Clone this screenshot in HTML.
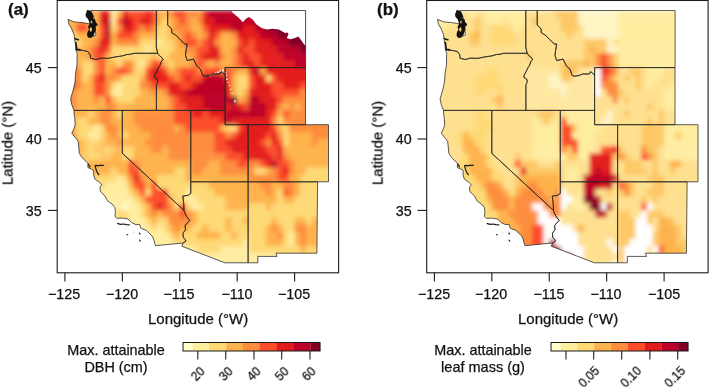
<!DOCTYPE html>
<html><head><meta charset="utf-8"><style>
html,body{margin:0;padding:0;background:#fff}
body{width:709px;height:390px;position:relative;overflow:hidden;font-family:"Liberation Sans", sans-serif;color:#111}
div{-webkit-text-stroke:0.25px #111;will-change:transform}
</style></head><body>
<svg width="709" height="390" style="position:absolute;left:0;top:0"><defs><filter id="bl" x="-5%" y="-5%" width="110%" height="110%"><feGaussianBlur stdDeviation="2.0"/></filter></defs><clipPath id="land0"><path d="M90.7,10.5L156.3,10.5L156.3,47.3L157.7,53.3L134.0,53.3L130.4,54.3L126.9,54.5L122.3,55.9L115.4,56.9L108.5,58.3L100.5,58.2L95.9,59.5L90.6,58.3L90.2,54.7L87.9,51.6L83.3,50.5L77.5,49.8L75.8,49.5L75.5,44.8L74.7,39.8L74.1,34.8L71.8,29.0L68.9,24.0L68.0,19.3L74.1,21.9L82.1,22.6L86.7,23.3L90.2,24.0L92.5,30.5L93.6,36.2L95.9,34.8L95.3,29.0L95.9,24.8L94.2,19.0L92.5,14.8L90.7,10.5Z"/><path d="M74.0,110.4L71.8,104.7L70.6,99.0L71.8,94.7L73.5,89.0L75.0,81.9L75.6,73.3L77.0,64.7L77.0,59.0L77.2,53.3L75.8,49.5L77.5,49.8L83.3,50.5L87.9,51.6L90.2,54.7L90.6,58.3L95.9,59.5L100.5,58.2L108.5,58.3L115.4,56.9L122.3,55.9L126.9,54.5L130.4,54.3L134.0,53.3L157.7,53.3L157.7,53.3L159.3,55.5L161.9,57.6L163.0,59.5L161.6,61.2L159.9,65.5L158.5,67.6L156.8,71.2L154.5,75.5L154.5,77.6L157.1,79.0L157.9,81.9L156.4,84.7L156.4,110.4Z"/><path d="M155.4,245.7L153.6,239.0L152.2,236.1L146.4,230.4L141.8,228.7L140.7,228.2L139.6,224.3L136.1,224.7L131.5,222.5L128.1,219.0L122.3,218.1L116.9,218.3L115.0,216.5L115.4,211.8L114.9,207.5L112.0,204.0L107.4,200.8L105.1,196.1L100.5,191.8L99.9,187.6L101.7,184.7L99.4,182.3L94.8,179.0L93.6,174.7L93.6,170.4L91.3,169.0L87.9,167.6L87.9,163.3L82.1,157.6L79.3,153.3L78.7,146.1L78.1,141.1L75.2,137.6L71.8,133.3L74.1,128.3L75.2,124.7L74.7,117.6L74.1,114.0L74.0,110.4L122.3,110.4L122.3,153.3L184.0,210.4L184.7,212.5L186.3,216.1L189.7,220.4L186.3,224.0L185.1,225.7L185.5,229.7L183.0,233.2L183.2,237.5L185.5,239.7L185.8,241.2L183.0,243.0L155.4,245.7Z"/><path d="M122.3,110.4L190.8,110.4L190.8,193.4L187.8,195.4L182.7,196.1L183.2,199.0L183.7,203.3L184.0,210.4L122.3,153.3Z"/><path d="M156.3,10.5L167.7,10.5L167.7,25.0L171.7,29.0L171.7,32.6L176.3,35.5L180.3,39.8L184.9,44.0L187.2,44.0L186.1,50.5L185.5,55.5L187.2,60.5L191.2,59.7L193.5,59.0L197.0,66.2L200.4,69.0L202.7,75.5L205.0,76.2L209.6,75.5L213.1,74.0L219.9,74.0L221.1,71.6L225.1,75.0L225.1,110.4L156.4,110.4L156.4,84.7L157.9,81.9L157.1,79.0L154.5,77.6L154.5,75.5L156.8,71.2L158.5,67.6L159.9,65.5L161.6,61.2L163.0,59.5L161.9,57.6L159.3,55.5L157.7,53.3L156.3,47.3Z"/><path d="M167.7,10.5L305.6,10.5L305.6,67.6L225.1,67.6L225.1,75.0L221.1,71.6L219.9,74.0L213.1,74.0L209.6,75.5L205.0,76.2L202.7,75.5L200.4,69.0L197.0,66.2L193.5,59.0L191.2,59.7L187.2,60.5L185.5,55.5L186.1,50.5L187.2,44.0L184.9,44.0L180.3,39.8L176.3,35.5L171.7,32.6L171.7,29.0L167.7,25.0Z"/><path d="M225.1,67.6L305.5,67.6L305.5,124.7L225.1,124.7Z"/><path d="M190.8,110.4L225.1,110.4L225.1,124.7L248.1,124.7L248.1,181.8L190.7,181.8Z"/><path d="M248.1,124.7L328.5,124.7L328.5,181.8L248.1,181.8Z"/><path d="M190.7,181.8L248.1,181.8L248.1,262.8L224.9,262.8L181.8,246.2L183.0,243.0L185.8,241.2L185.5,239.7L183.2,237.5L183.0,233.2L185.5,229.7L185.1,225.7L186.3,224.0L189.7,220.4L186.3,216.1L184.7,212.5L184.0,210.4L183.7,203.3L183.2,199.0L182.7,196.1L187.8,195.4L190.8,193.4Z"/><path d="M248.1,181.8L317.6,181.8L316.9,253.2L276.0,253.2L277.0,256.4L257.8,256.4L257.8,262.8L248.1,262.8Z"/></clipPath><g clip-path="url(#land0)"><g filter="url(#bl)"><rect x="64.9" y="10.5" width="11.8" height="7.4" fill="#FEB24C"/><rect x="76.4" y="10.5" width="17.5" height="7.4" fill="#FD8D3C"/><rect x="93.6" y="10.5" width="6.0" height="7.4" fill="#FEB24C"/><rect x="99.4" y="10.5" width="11.8" height="7.4" fill="#E31A1C"/><rect x="110.8" y="10.5" width="6.0" height="7.4" fill="#FFEDA0"/><rect x="116.6" y="10.5" width="6.0" height="7.4" fill="#FEB24C"/><rect x="122.3" y="10.5" width="6.0" height="7.4" fill="#E31A1C"/><rect x="128.1" y="10.5" width="17.5" height="7.4" fill="#FC4E2A"/><rect x="145.3" y="10.5" width="6.0" height="7.4" fill="#E31A1C"/><rect x="151.0" y="10.5" width="6.0" height="7.4" fill="#FC4E2A"/><rect x="156.8" y="10.5" width="11.8" height="7.4" fill="#FEB24C"/><rect x="168.3" y="10.5" width="6.0" height="7.4" fill="#FD8D3C"/><rect x="174.0" y="10.5" width="11.8" height="7.4" fill="#FC4E2A"/><rect x="185.5" y="10.5" width="17.5" height="7.4" fill="#FD8D3C"/><rect x="202.7" y="10.5" width="6.0" height="7.4" fill="#E31A1C"/><rect x="208.5" y="10.5" width="46.2" height="7.4" fill="#BD0026"/><rect x="254.4" y="10.5" width="69.2" height="7.4" fill="#800026"/><rect x="64.9" y="17.6" width="11.8" height="7.4" fill="#FEB24C"/><rect x="76.4" y="17.6" width="11.8" height="7.4" fill="#FD8D3C"/><rect x="87.9" y="17.6" width="11.8" height="7.4" fill="#FEB24C"/><rect x="99.4" y="17.6" width="6.0" height="7.4" fill="#E31A1C"/><rect x="105.1" y="17.6" width="6.0" height="7.4" fill="#BD0026"/><rect x="110.8" y="17.6" width="6.0" height="7.4" fill="#FFEDA0"/><rect x="116.6" y="17.6" width="6.0" height="7.4" fill="#FC4E2A"/><rect x="122.3" y="17.6" width="6.0" height="7.4" fill="#BD0026"/><rect x="128.1" y="17.6" width="6.0" height="7.4" fill="#E31A1C"/><rect x="133.8" y="17.6" width="6.0" height="7.4" fill="#FC4E2A"/><rect x="139.6" y="17.6" width="11.8" height="7.4" fill="#E31A1C"/><rect x="151.0" y="17.6" width="6.0" height="7.4" fill="#FC4E2A"/><rect x="156.8" y="17.6" width="6.0" height="7.4" fill="#FEB24C"/><rect x="162.5" y="17.6" width="6.0" height="7.4" fill="#FED976"/><rect x="168.3" y="17.6" width="6.0" height="7.4" fill="#FEB24C"/><rect x="174.0" y="17.6" width="6.0" height="7.4" fill="#FD8D3C"/><rect x="179.8" y="17.6" width="6.0" height="7.4" fill="#FC4E2A"/><rect x="185.5" y="17.6" width="6.0" height="7.4" fill="#FD8D3C"/><rect x="191.2" y="17.6" width="6.0" height="7.4" fill="#FEB24C"/><rect x="197.0" y="17.6" width="6.0" height="7.4" fill="#FD8D3C"/><rect x="202.7" y="17.6" width="11.8" height="7.4" fill="#E31A1C"/><rect x="214.2" y="17.6" width="40.5" height="7.4" fill="#BD0026"/><rect x="254.4" y="17.6" width="69.2" height="7.4" fill="#800026"/><rect x="64.9" y="24.8" width="11.8" height="7.4" fill="#FEB24C"/><rect x="76.4" y="24.8" width="11.8" height="7.4" fill="#FC4E2A"/><rect x="87.9" y="24.8" width="11.8" height="7.4" fill="#FEB24C"/><rect x="99.4" y="24.8" width="6.0" height="7.4" fill="#FC4E2A"/><rect x="105.1" y="24.8" width="6.0" height="7.4" fill="#BD0026"/><rect x="110.8" y="24.8" width="6.0" height="7.4" fill="#FED976"/><rect x="116.6" y="24.8" width="6.0" height="7.4" fill="#FD8D3C"/><rect x="122.3" y="24.8" width="11.8" height="7.4" fill="#E31A1C"/><rect x="133.8" y="24.8" width="6.0" height="7.4" fill="#FC4E2A"/><rect x="139.6" y="24.8" width="6.0" height="7.4" fill="#FD8D3C"/><rect x="145.3" y="24.8" width="6.0" height="7.4" fill="#FC4E2A"/><rect x="151.0" y="24.8" width="6.0" height="7.4" fill="#FD8D3C"/><rect x="156.8" y="24.8" width="11.8" height="7.4" fill="#FED976"/><rect x="168.3" y="24.8" width="6.0" height="7.4" fill="#FEB24C"/><rect x="174.0" y="24.8" width="17.5" height="7.4" fill="#FD8D3C"/><rect x="191.2" y="24.8" width="11.8" height="7.4" fill="#FEB24C"/><rect x="202.7" y="24.8" width="6.0" height="7.4" fill="#FC4E2A"/><rect x="208.5" y="24.8" width="23.3" height="7.4" fill="#E31A1C"/><rect x="231.4" y="24.8" width="11.8" height="7.4" fill="#BD0026"/><rect x="242.9" y="24.8" width="11.8" height="7.4" fill="#E31A1C"/><rect x="254.4" y="24.8" width="11.8" height="7.4" fill="#BD0026"/><rect x="265.9" y="24.8" width="57.7" height="7.4" fill="#800026"/><rect x="64.9" y="31.9" width="6.0" height="7.4" fill="#FEB24C"/><rect x="70.6" y="31.9" width="6.0" height="7.4" fill="#FED976"/><rect x="76.4" y="31.9" width="23.3" height="7.4" fill="#FEB24C"/><rect x="99.4" y="31.9" width="6.0" height="7.4" fill="#FC4E2A"/><rect x="105.1" y="31.9" width="6.0" height="7.4" fill="#BD0026"/><rect x="110.8" y="31.9" width="6.0" height="7.4" fill="#FEB24C"/><rect x="116.6" y="31.9" width="17.5" height="7.4" fill="#FC4E2A"/><rect x="133.8" y="31.9" width="6.0" height="7.4" fill="#FD8D3C"/><rect x="139.6" y="31.9" width="17.5" height="7.4" fill="#FEB24C"/><rect x="156.8" y="31.9" width="11.8" height="7.4" fill="#FED976"/><rect x="168.3" y="31.9" width="11.8" height="7.4" fill="#FEB24C"/><rect x="179.8" y="31.9" width="6.0" height="7.4" fill="#FD8D3C"/><rect x="185.5" y="31.9" width="6.0" height="7.4" fill="#FC4E2A"/><rect x="191.2" y="31.9" width="6.0" height="7.4" fill="#FD8D3C"/><rect x="197.0" y="31.9" width="6.0" height="7.4" fill="#FEB24C"/><rect x="202.7" y="31.9" width="6.0" height="7.4" fill="#FD8D3C"/><rect x="208.5" y="31.9" width="6.0" height="7.4" fill="#E31A1C"/><rect x="214.2" y="31.9" width="6.0" height="7.4" fill="#FC4E2A"/><rect x="219.9" y="31.9" width="11.8" height="7.4" fill="#FEB24C"/><rect x="231.4" y="31.9" width="6.0" height="7.4" fill="#FD8D3C"/><rect x="237.2" y="31.9" width="23.3" height="7.4" fill="#E31A1C"/><rect x="260.1" y="31.9" width="17.5" height="7.4" fill="#BD0026"/><rect x="277.4" y="31.9" width="46.2" height="7.4" fill="#800026"/><rect x="64.9" y="39.0" width="17.5" height="7.4" fill="#FED976"/><rect x="82.1" y="39.0" width="11.8" height="7.4" fill="#FEB24C"/><rect x="93.6" y="39.0" width="6.0" height="7.4" fill="#FD8D3C"/><rect x="99.4" y="39.0" width="11.8" height="7.4" fill="#E31A1C"/><rect x="110.8" y="39.0" width="6.0" height="7.4" fill="#FEB24C"/><rect x="116.6" y="39.0" width="23.3" height="7.4" fill="#FD8D3C"/><rect x="139.6" y="39.0" width="17.5" height="7.4" fill="#FED976"/><rect x="156.8" y="39.0" width="6.0" height="7.4" fill="#FFEDA0"/><rect x="162.5" y="39.0" width="11.8" height="7.4" fill="#FED976"/><rect x="174.0" y="39.0" width="6.0" height="7.4" fill="#FEB24C"/><rect x="179.8" y="39.0" width="6.0" height="7.4" fill="#FD8D3C"/><rect x="185.5" y="39.0" width="11.8" height="7.4" fill="#FC4E2A"/><rect x="197.0" y="39.0" width="6.0" height="7.4" fill="#FD8D3C"/><rect x="202.7" y="39.0" width="6.0" height="7.4" fill="#FC4E2A"/><rect x="208.5" y="39.0" width="6.0" height="7.4" fill="#E31A1C"/><rect x="214.2" y="39.0" width="6.0" height="7.4" fill="#FD8D3C"/><rect x="219.9" y="39.0" width="17.5" height="7.4" fill="#FEB24C"/><rect x="237.2" y="39.0" width="6.0" height="7.4" fill="#FC4E2A"/><rect x="242.9" y="39.0" width="6.0" height="7.4" fill="#E31A1C"/><rect x="248.7" y="39.0" width="6.0" height="7.4" fill="#FC4E2A"/><rect x="254.4" y="39.0" width="17.5" height="7.4" fill="#E31A1C"/><rect x="271.6" y="39.0" width="17.5" height="7.4" fill="#BD0026"/><rect x="288.9" y="39.0" width="34.8" height="7.4" fill="#800026"/><rect x="64.9" y="46.2" width="11.8" height="7.4" fill="#FED976"/><rect x="76.4" y="46.2" width="11.8" height="7.4" fill="#FEB24C"/><rect x="87.9" y="46.2" width="6.0" height="7.4" fill="#FD8D3C"/><rect x="93.6" y="46.2" width="6.0" height="7.4" fill="#FC4E2A"/><rect x="99.4" y="46.2" width="6.0" height="7.4" fill="#E31A1C"/><rect x="105.1" y="46.2" width="6.0" height="7.4" fill="#FC4E2A"/><rect x="110.8" y="46.2" width="34.8" height="7.4" fill="#FED976"/><rect x="145.3" y="46.2" width="6.0" height="7.4" fill="#FFEDA0"/><rect x="151.0" y="46.2" width="23.3" height="7.4" fill="#FED976"/><rect x="174.0" y="46.2" width="11.8" height="7.4" fill="#FEB24C"/><rect x="185.5" y="46.2" width="11.8" height="7.4" fill="#FD8D3C"/><rect x="197.0" y="46.2" width="11.8" height="7.4" fill="#FC4E2A"/><rect x="208.5" y="46.2" width="11.8" height="7.4" fill="#E31A1C"/><rect x="219.9" y="46.2" width="11.8" height="7.4" fill="#FEB24C"/><rect x="231.4" y="46.2" width="6.0" height="7.4" fill="#FD8D3C"/><rect x="237.2" y="46.2" width="6.0" height="7.4" fill="#E31A1C"/><rect x="242.9" y="46.2" width="11.8" height="7.4" fill="#FC4E2A"/><rect x="254.4" y="46.2" width="23.3" height="7.4" fill="#E31A1C"/><rect x="277.4" y="46.2" width="23.3" height="7.4" fill="#BD0026"/><rect x="300.3" y="46.2" width="23.3" height="7.4" fill="#800026"/><rect x="64.9" y="53.3" width="11.8" height="7.4" fill="#FED976"/><rect x="76.4" y="53.3" width="11.8" height="7.4" fill="#FEB24C"/><rect x="87.9" y="53.3" width="6.0" height="7.4" fill="#FD8D3C"/><rect x="93.6" y="53.3" width="11.8" height="7.4" fill="#FC4E2A"/><rect x="105.1" y="53.3" width="6.0" height="7.4" fill="#FEB24C"/><rect x="110.8" y="53.3" width="40.5" height="7.4" fill="#FED976"/><rect x="151.0" y="53.3" width="6.0" height="7.4" fill="#FEB24C"/><rect x="156.8" y="53.3" width="11.8" height="7.4" fill="#FED976"/><rect x="168.3" y="53.3" width="23.3" height="7.4" fill="#FEB24C"/><rect x="191.2" y="53.3" width="6.0" height="7.4" fill="#FD8D3C"/><rect x="197.0" y="53.3" width="6.0" height="7.4" fill="#FC4E2A"/><rect x="202.7" y="53.3" width="17.5" height="7.4" fill="#E31A1C"/><rect x="219.9" y="53.3" width="6.0" height="7.4" fill="#FD8D3C"/><rect x="225.7" y="53.3" width="6.0" height="7.4" fill="#FEB24C"/><rect x="231.4" y="53.3" width="6.0" height="7.4" fill="#FD8D3C"/><rect x="237.2" y="53.3" width="6.0" height="7.4" fill="#FC4E2A"/><rect x="242.9" y="53.3" width="6.0" height="7.4" fill="#E31A1C"/><rect x="248.7" y="53.3" width="11.8" height="7.4" fill="#FC4E2A"/><rect x="260.1" y="53.3" width="23.3" height="7.4" fill="#E31A1C"/><rect x="283.1" y="53.3" width="40.5" height="7.4" fill="#BD0026"/><rect x="64.9" y="60.5" width="6.0" height="7.4" fill="#FED976"/><rect x="70.6" y="60.5" width="11.8" height="7.4" fill="#FEB24C"/><rect x="82.1" y="60.5" width="11.8" height="7.4" fill="#FED976"/><rect x="93.6" y="60.5" width="6.0" height="7.4" fill="#FD8D3C"/><rect x="99.4" y="60.5" width="6.0" height="7.4" fill="#FC4E2A"/><rect x="105.1" y="60.5" width="11.8" height="7.4" fill="#FEB24C"/><rect x="116.6" y="60.5" width="6.0" height="7.4" fill="#FED976"/><rect x="122.3" y="60.5" width="11.8" height="7.4" fill="#FD8D3C"/><rect x="133.8" y="60.5" width="6.0" height="7.4" fill="#FED976"/><rect x="139.6" y="60.5" width="6.0" height="7.4" fill="#FFEDA0"/><rect x="145.3" y="60.5" width="6.0" height="7.4" fill="#FEB24C"/><rect x="151.0" y="60.5" width="11.8" height="7.4" fill="#FC4E2A"/><rect x="162.5" y="60.5" width="6.0" height="7.4" fill="#FEB24C"/><rect x="168.3" y="60.5" width="6.0" height="7.4" fill="#FED976"/><rect x="174.0" y="60.5" width="17.5" height="7.4" fill="#FEB24C"/><rect x="191.2" y="60.5" width="6.0" height="7.4" fill="#FD8D3C"/><rect x="197.0" y="60.5" width="6.0" height="7.4" fill="#FC4E2A"/><rect x="202.7" y="60.5" width="6.0" height="7.4" fill="#FD8D3C"/><rect x="208.5" y="60.5" width="6.0" height="7.4" fill="#FEB24C"/><rect x="214.2" y="60.5" width="6.0" height="7.4" fill="#FD8D3C"/><rect x="219.9" y="60.5" width="11.8" height="7.4" fill="#FEB24C"/><rect x="231.4" y="60.5" width="6.0" height="7.4" fill="#FD8D3C"/><rect x="237.2" y="60.5" width="6.0" height="7.4" fill="#FC4E2A"/><rect x="242.9" y="60.5" width="11.8" height="7.4" fill="#E31A1C"/><rect x="254.4" y="60.5" width="6.0" height="7.4" fill="#FC4E2A"/><rect x="260.1" y="60.5" width="34.8" height="7.4" fill="#E31A1C"/><rect x="294.6" y="60.5" width="29.0" height="7.4" fill="#BD0026"/><rect x="64.9" y="67.6" width="17.5" height="7.4" fill="#FD8D3C"/><rect x="82.1" y="67.6" width="11.8" height="7.4" fill="#FED976"/><rect x="93.6" y="67.6" width="6.0" height="7.4" fill="#FD8D3C"/><rect x="99.4" y="67.6" width="6.0" height="7.4" fill="#FC4E2A"/><rect x="105.1" y="67.6" width="6.0" height="7.4" fill="#FEB24C"/><rect x="110.8" y="67.6" width="6.0" height="7.4" fill="#FD8D3C"/><rect x="116.6" y="67.6" width="11.8" height="7.4" fill="#FC4E2A"/><rect x="128.1" y="67.6" width="6.0" height="7.4" fill="#FD8D3C"/><rect x="133.8" y="67.6" width="11.8" height="7.4" fill="#FED976"/><rect x="145.3" y="67.6" width="6.0" height="7.4" fill="#FC4E2A"/><rect x="151.0" y="67.6" width="11.8" height="7.4" fill="#E31A1C"/><rect x="162.5" y="67.6" width="6.0" height="7.4" fill="#FC4E2A"/><rect x="168.3" y="67.6" width="6.0" height="7.4" fill="#FEB24C"/><rect x="174.0" y="67.6" width="6.0" height="7.4" fill="#FD8D3C"/><rect x="179.8" y="67.6" width="17.5" height="7.4" fill="#FC4E2A"/><rect x="197.0" y="67.6" width="6.0" height="7.4" fill="#FD8D3C"/><rect x="202.7" y="67.6" width="17.5" height="7.4" fill="#FC4E2A"/><rect x="219.9" y="67.6" width="6.0" height="7.4" fill="#FD8D3C"/><rect x="225.7" y="67.6" width="6.0" height="7.4" fill="#FC4E2A"/><rect x="231.4" y="67.6" width="6.0" height="7.4" fill="#FD8D3C"/><rect x="237.2" y="67.6" width="11.8" height="7.4" fill="#FEB24C"/><rect x="248.7" y="67.6" width="6.0" height="7.4" fill="#E31A1C"/><rect x="254.4" y="67.6" width="6.0" height="7.4" fill="#BD0026"/><rect x="260.1" y="67.6" width="6.0" height="7.4" fill="#FEB24C"/><rect x="265.9" y="67.6" width="57.7" height="7.4" fill="#E31A1C"/><rect x="64.9" y="74.7" width="6.0" height="7.4" fill="#FC4E2A"/><rect x="70.6" y="74.7" width="11.8" height="7.4" fill="#FD8D3C"/><rect x="82.1" y="74.7" width="6.0" height="7.4" fill="#FED976"/><rect x="87.9" y="74.7" width="6.0" height="7.4" fill="#FEB24C"/><rect x="93.6" y="74.7" width="6.0" height="7.4" fill="#FC4E2A"/><rect x="99.4" y="74.7" width="6.0" height="7.4" fill="#E31A1C"/><rect x="105.1" y="74.7" width="11.8" height="7.4" fill="#FD8D3C"/><rect x="116.6" y="74.7" width="6.0" height="7.4" fill="#FEB24C"/><rect x="122.3" y="74.7" width="17.5" height="7.4" fill="#FED976"/><rect x="139.6" y="74.7" width="6.0" height="7.4" fill="#FEB24C"/><rect x="145.3" y="74.7" width="6.0" height="7.4" fill="#FC4E2A"/><rect x="151.0" y="74.7" width="17.5" height="7.4" fill="#E31A1C"/><rect x="168.3" y="74.7" width="6.0" height="7.4" fill="#FC4E2A"/><rect x="174.0" y="74.7" width="6.0" height="7.4" fill="#FD8D3C"/><rect x="179.8" y="74.7" width="6.0" height="7.4" fill="#FC4E2A"/><rect x="185.5" y="74.7" width="6.0" height="7.4" fill="#E31A1C"/><rect x="191.2" y="74.7" width="11.8" height="7.4" fill="#FC4E2A"/><rect x="202.7" y="74.7" width="23.3" height="7.4" fill="#BD0026"/><rect x="225.7" y="74.7" width="6.0" height="7.4" fill="#FC4E2A"/><rect x="231.4" y="74.7" width="6.0" height="7.4" fill="#FEB24C"/><rect x="237.2" y="74.7" width="11.8" height="7.4" fill="#FED976"/><rect x="248.7" y="74.7" width="6.0" height="7.4" fill="#FC4E2A"/><rect x="254.4" y="74.7" width="11.8" height="7.4" fill="#E31A1C"/><rect x="265.9" y="74.7" width="6.0" height="7.4" fill="#FED976"/><rect x="271.6" y="74.7" width="6.0" height="7.4" fill="#FC4E2A"/><rect x="277.4" y="74.7" width="46.2" height="7.4" fill="#E31A1C"/><rect x="64.9" y="81.9" width="6.0" height="7.4" fill="#FD8D3C"/><rect x="70.6" y="81.9" width="6.0" height="7.4" fill="#FC4E2A"/><rect x="76.4" y="81.9" width="6.0" height="7.4" fill="#FD8D3C"/><rect x="82.1" y="81.9" width="11.8" height="7.4" fill="#FEB24C"/><rect x="93.6" y="81.9" width="11.8" height="7.4" fill="#FC4E2A"/><rect x="105.1" y="81.9" width="6.0" height="7.4" fill="#FD8D3C"/><rect x="110.8" y="81.9" width="6.0" height="7.4" fill="#FED976"/><rect x="116.6" y="81.9" width="6.0" height="7.4" fill="#FFEDA0"/><rect x="122.3" y="81.9" width="17.5" height="7.4" fill="#FED976"/><rect x="139.6" y="81.9" width="11.8" height="7.4" fill="#FD8D3C"/><rect x="151.0" y="81.9" width="17.5" height="7.4" fill="#FC4E2A"/><rect x="168.3" y="81.9" width="11.8" height="7.4" fill="#E31A1C"/><rect x="179.8" y="81.9" width="11.8" height="7.4" fill="#FC4E2A"/><rect x="191.2" y="81.9" width="6.0" height="7.4" fill="#E31A1C"/><rect x="197.0" y="81.9" width="29.0" height="7.4" fill="#BD0026"/><rect x="225.7" y="81.9" width="6.0" height="7.4" fill="#E31A1C"/><rect x="231.4" y="81.9" width="6.0" height="7.4" fill="#FEB24C"/><rect x="237.2" y="81.9" width="11.8" height="7.4" fill="#FED976"/><rect x="248.7" y="81.9" width="6.0" height="7.4" fill="#FC4E2A"/><rect x="254.4" y="81.9" width="17.5" height="7.4" fill="#E31A1C"/><rect x="271.6" y="81.9" width="11.8" height="7.4" fill="#FC4E2A"/><rect x="283.1" y="81.9" width="17.5" height="7.4" fill="#E31A1C"/><rect x="300.3" y="81.9" width="23.3" height="7.4" fill="#FC4E2A"/><rect x="64.9" y="89.0" width="11.8" height="7.4" fill="#FD8D3C"/><rect x="76.4" y="89.0" width="17.5" height="7.4" fill="#FEB24C"/><rect x="93.6" y="89.0" width="11.8" height="7.4" fill="#FC4E2A"/><rect x="105.1" y="89.0" width="6.0" height="7.4" fill="#FD8D3C"/><rect x="110.8" y="89.0" width="11.8" height="7.4" fill="#FFEDA0"/><rect x="122.3" y="89.0" width="17.5" height="7.4" fill="#FED976"/><rect x="139.6" y="89.0" width="11.8" height="7.4" fill="#FEB24C"/><rect x="151.0" y="89.0" width="6.0" height="7.4" fill="#FD8D3C"/><rect x="156.8" y="89.0" width="6.0" height="7.4" fill="#FEB24C"/><rect x="162.5" y="89.0" width="6.0" height="7.4" fill="#FD8D3C"/><rect x="168.3" y="89.0" width="17.5" height="7.4" fill="#E31A1C"/><rect x="185.5" y="89.0" width="40.5" height="7.4" fill="#BD0026"/><rect x="225.7" y="89.0" width="6.0" height="7.4" fill="#E31A1C"/><rect x="231.4" y="89.0" width="6.0" height="7.4" fill="#FEB24C"/><rect x="237.2" y="89.0" width="6.0" height="7.4" fill="#FED976"/><rect x="242.9" y="89.0" width="6.0" height="7.4" fill="#FEB24C"/><rect x="248.7" y="89.0" width="23.3" height="7.4" fill="#E31A1C"/><rect x="271.6" y="89.0" width="29.0" height="7.4" fill="#FC4E2A"/><rect x="300.3" y="89.0" width="23.3" height="7.4" fill="#FD8D3C"/><rect x="64.9" y="96.2" width="11.8" height="7.4" fill="#FD8D3C"/><rect x="76.4" y="96.2" width="17.5" height="7.4" fill="#FEB24C"/><rect x="93.6" y="96.2" width="6.0" height="7.4" fill="#FD8D3C"/><rect x="99.4" y="96.2" width="6.0" height="7.4" fill="#FEB24C"/><rect x="105.1" y="96.2" width="6.0" height="7.4" fill="#FC4E2A"/><rect x="110.8" y="96.2" width="6.0" height="7.4" fill="#FEB24C"/><rect x="116.6" y="96.2" width="17.5" height="7.4" fill="#FED976"/><rect x="133.8" y="96.2" width="34.8" height="7.4" fill="#FEB24C"/><rect x="168.3" y="96.2" width="6.0" height="7.4" fill="#FD8D3C"/><rect x="174.0" y="96.2" width="6.0" height="7.4" fill="#FC4E2A"/><rect x="179.8" y="96.2" width="23.3" height="7.4" fill="#E31A1C"/><rect x="202.7" y="96.2" width="29.0" height="7.4" fill="#BD0026"/><rect x="231.4" y="96.2" width="6.0" height="7.4" fill="#800026"/><rect x="237.2" y="96.2" width="6.0" height="7.4" fill="#FEB24C"/><rect x="242.9" y="96.2" width="6.0" height="7.4" fill="#FD8D3C"/><rect x="248.7" y="96.2" width="11.8" height="7.4" fill="#BD0026"/><rect x="260.1" y="96.2" width="17.5" height="7.4" fill="#E31A1C"/><rect x="277.4" y="96.2" width="6.0" height="7.4" fill="#FC4E2A"/><rect x="283.1" y="96.2" width="40.5" height="7.4" fill="#FD8D3C"/><rect x="64.9" y="103.3" width="11.8" height="7.4" fill="#FD8D3C"/><rect x="76.4" y="103.3" width="29.0" height="7.4" fill="#FEB24C"/><rect x="105.1" y="103.3" width="11.8" height="7.4" fill="#FD8D3C"/><rect x="116.6" y="103.3" width="52.0" height="7.4" fill="#FEB24C"/><rect x="168.3" y="103.3" width="6.0" height="7.4" fill="#FD8D3C"/><rect x="174.0" y="103.3" width="11.8" height="7.4" fill="#FC4E2A"/><rect x="185.5" y="103.3" width="17.5" height="7.4" fill="#E31A1C"/><rect x="202.7" y="103.3" width="23.3" height="7.4" fill="#BD0026"/><rect x="225.7" y="103.3" width="6.0" height="7.4" fill="#E31A1C"/><rect x="231.4" y="103.3" width="6.0" height="7.4" fill="#BD0026"/><rect x="237.2" y="103.3" width="6.0" height="7.4" fill="#E31A1C"/><rect x="242.9" y="103.3" width="6.0" height="7.4" fill="#FC4E2A"/><rect x="248.7" y="103.3" width="17.5" height="7.4" fill="#BD0026"/><rect x="265.9" y="103.3" width="11.8" height="7.4" fill="#E31A1C"/><rect x="277.4" y="103.3" width="6.0" height="7.4" fill="#FD8D3C"/><rect x="283.1" y="103.3" width="6.0" height="7.4" fill="#FEB24C"/><rect x="288.9" y="103.3" width="6.0" height="7.4" fill="#FD8D3C"/><rect x="294.6" y="103.3" width="6.0" height="7.4" fill="#FEB24C"/><rect x="300.3" y="103.3" width="40.5" height="7.4" fill="#FD8D3C"/><rect x="64.9" y="110.4" width="23.3" height="7.4" fill="#FEB24C"/><rect x="87.9" y="110.4" width="6.0" height="7.4" fill="#FED976"/><rect x="93.6" y="110.4" width="6.0" height="7.4" fill="#FEB24C"/><rect x="99.4" y="110.4" width="11.8" height="7.4" fill="#FD8D3C"/><rect x="110.8" y="110.4" width="6.0" height="7.4" fill="#FEB24C"/><rect x="116.6" y="110.4" width="6.0" height="7.4" fill="#FED976"/><rect x="122.3" y="110.4" width="11.8" height="7.4" fill="#FEB24C"/><rect x="133.8" y="110.4" width="40.5" height="7.4" fill="#FD8D3C"/><rect x="174.0" y="110.4" width="17.5" height="7.4" fill="#FC4E2A"/><rect x="191.2" y="110.4" width="11.8" height="7.4" fill="#E31A1C"/><rect x="202.7" y="110.4" width="6.0" height="7.4" fill="#FC4E2A"/><rect x="208.5" y="110.4" width="17.5" height="7.4" fill="#E31A1C"/><rect x="225.7" y="110.4" width="40.5" height="7.4" fill="#BD0026"/><rect x="265.9" y="110.4" width="6.0" height="7.4" fill="#E31A1C"/><rect x="271.6" y="110.4" width="6.0" height="7.4" fill="#FC4E2A"/><rect x="277.4" y="110.4" width="6.0" height="7.4" fill="#FEB24C"/><rect x="283.1" y="110.4" width="6.0" height="7.4" fill="#FC4E2A"/><rect x="288.9" y="110.4" width="52.0" height="7.4" fill="#FD8D3C"/><rect x="64.9" y="117.6" width="11.8" height="7.4" fill="#FEB24C"/><rect x="76.4" y="117.6" width="11.8" height="7.4" fill="#FED976"/><rect x="87.9" y="117.6" width="11.8" height="7.4" fill="#FEB24C"/><rect x="99.4" y="117.6" width="11.8" height="7.4" fill="#FD8D3C"/><rect x="110.8" y="117.6" width="23.3" height="7.4" fill="#FEB24C"/><rect x="133.8" y="117.6" width="40.5" height="7.4" fill="#FD8D3C"/><rect x="174.0" y="117.6" width="46.2" height="7.4" fill="#FC4E2A"/><rect x="219.9" y="117.6" width="6.0" height="7.4" fill="#E31A1C"/><rect x="225.7" y="117.6" width="6.0" height="7.4" fill="#BD0026"/><rect x="231.4" y="117.6" width="40.5" height="7.4" fill="#E31A1C"/><rect x="271.6" y="117.6" width="6.0" height="7.4" fill="#FD8D3C"/><rect x="277.4" y="117.6" width="6.0" height="7.4" fill="#FED976"/><rect x="283.1" y="117.6" width="57.7" height="7.4" fill="#FD8D3C"/><rect x="64.9" y="124.7" width="11.8" height="7.4" fill="#FEB24C"/><rect x="76.4" y="124.7" width="17.5" height="7.4" fill="#FED976"/><rect x="93.6" y="124.7" width="6.0" height="7.4" fill="#FFEDA0"/><rect x="99.4" y="124.7" width="6.0" height="7.4" fill="#FED976"/><rect x="105.1" y="124.7" width="11.8" height="7.4" fill="#FD8D3C"/><rect x="116.6" y="124.7" width="23.3" height="7.4" fill="#FEB24C"/><rect x="139.6" y="124.7" width="34.8" height="7.4" fill="#FD8D3C"/><rect x="174.0" y="124.7" width="6.0" height="7.4" fill="#FEB24C"/><rect x="179.8" y="124.7" width="6.0" height="7.4" fill="#FD8D3C"/><rect x="185.5" y="124.7" width="34.8" height="7.4" fill="#FC4E2A"/><rect x="219.9" y="124.7" width="6.0" height="7.4" fill="#FEB24C"/><rect x="225.7" y="124.7" width="11.8" height="7.4" fill="#FED976"/><rect x="237.2" y="124.7" width="6.0" height="7.4" fill="#FC4E2A"/><rect x="242.9" y="124.7" width="29.0" height="7.4" fill="#E31A1C"/><rect x="271.6" y="124.7" width="6.0" height="7.4" fill="#FC4E2A"/><rect x="277.4" y="124.7" width="6.0" height="7.4" fill="#FEB24C"/><rect x="283.1" y="124.7" width="6.0" height="7.4" fill="#FED976"/><rect x="288.9" y="124.7" width="52.0" height="7.4" fill="#FD8D3C"/><rect x="64.9" y="131.9" width="6.0" height="7.4" fill="#FEB24C"/><rect x="70.6" y="131.9" width="6.0" height="7.4" fill="#FD8D3C"/><rect x="76.4" y="131.9" width="11.8" height="7.4" fill="#FED976"/><rect x="87.9" y="131.9" width="11.8" height="7.4" fill="#FFEDA0"/><rect x="99.4" y="131.9" width="6.0" height="7.4" fill="#FED976"/><rect x="105.1" y="131.9" width="6.0" height="7.4" fill="#FEB24C"/><rect x="110.8" y="131.9" width="6.0" height="7.4" fill="#FD8D3C"/><rect x="116.6" y="131.9" width="6.0" height="7.4" fill="#FEB24C"/><rect x="122.3" y="131.9" width="6.0" height="7.4" fill="#FED976"/><rect x="128.1" y="131.9" width="23.3" height="7.4" fill="#FEB24C"/><rect x="151.0" y="131.9" width="63.5" height="7.4" fill="#FD8D3C"/><rect x="214.2" y="131.9" width="11.8" height="7.4" fill="#FC4E2A"/><rect x="225.7" y="131.9" width="6.0" height="7.4" fill="#FD8D3C"/><rect x="231.4" y="131.9" width="6.0" height="7.4" fill="#FC4E2A"/><rect x="237.2" y="131.9" width="29.0" height="7.4" fill="#E31A1C"/><rect x="265.9" y="131.9" width="6.0" height="7.4" fill="#FC4E2A"/><rect x="271.6" y="131.9" width="6.0" height="7.4" fill="#E31A1C"/><rect x="277.4" y="131.9" width="6.0" height="7.4" fill="#FD8D3C"/><rect x="283.1" y="131.9" width="6.0" height="7.4" fill="#FED976"/><rect x="288.9" y="131.9" width="23.3" height="7.4" fill="#FEB24C"/><rect x="311.8" y="131.9" width="29.0" height="7.4" fill="#FD8D3C"/><rect x="64.9" y="139.0" width="6.0" height="7.4" fill="#FD8D3C"/><rect x="70.6" y="139.0" width="11.8" height="7.4" fill="#FEB24C"/><rect x="82.1" y="139.0" width="6.0" height="7.4" fill="#FDC865"/><rect x="87.9" y="139.0" width="11.8" height="7.4" fill="#FED976"/><rect x="99.4" y="139.0" width="6.0" height="7.4" fill="#FDC865"/><rect x="105.1" y="139.0" width="11.8" height="7.4" fill="#FEB24C"/><rect x="116.6" y="139.0" width="6.0" height="7.4" fill="#FD8D3C"/><rect x="122.3" y="139.0" width="23.3" height="7.4" fill="#FEB24C"/><rect x="145.3" y="139.0" width="69.2" height="7.4" fill="#FD8D3C"/><rect x="214.2" y="139.0" width="11.8" height="7.4" fill="#FC4E2A"/><rect x="225.7" y="139.0" width="34.8" height="7.4" fill="#E31A1C"/><rect x="260.1" y="139.0" width="6.0" height="7.4" fill="#FC4E2A"/><rect x="265.9" y="139.0" width="6.0" height="7.4" fill="#FD8D3C"/><rect x="271.6" y="139.0" width="6.0" height="7.4" fill="#E31A1C"/><rect x="277.4" y="139.0" width="6.0" height="7.4" fill="#FC4E2A"/><rect x="283.1" y="139.0" width="6.0" height="7.4" fill="#FED976"/><rect x="288.9" y="139.0" width="23.3" height="7.4" fill="#FEB24C"/><rect x="311.8" y="139.0" width="6.0" height="7.4" fill="#FD8D3C"/><rect x="317.6" y="139.0" width="23.3" height="7.4" fill="#FEB24C"/><rect x="64.9" y="146.1" width="17.5" height="7.4" fill="#FEB24C"/><rect x="82.1" y="146.1" width="6.0" height="7.4" fill="#FDC865"/><rect x="87.9" y="146.1" width="6.0" height="7.4" fill="#FED976"/><rect x="93.6" y="146.1" width="11.8" height="7.4" fill="#FDC865"/><rect x="105.1" y="146.1" width="6.0" height="7.4" fill="#FED976"/><rect x="110.8" y="146.1" width="6.0" height="7.4" fill="#FDC865"/><rect x="116.6" y="146.1" width="6.0" height="7.4" fill="#FEB24C"/><rect x="122.3" y="146.1" width="11.8" height="7.4" fill="#FED976"/><rect x="133.8" y="146.1" width="17.5" height="7.4" fill="#FEB24C"/><rect x="151.0" y="146.1" width="11.8" height="7.4" fill="#FD8D3C"/><rect x="162.5" y="146.1" width="6.0" height="7.4" fill="#FEB24C"/><rect x="168.3" y="146.1" width="46.2" height="7.4" fill="#FD8D3C"/><rect x="214.2" y="146.1" width="17.5" height="7.4" fill="#FC4E2A"/><rect x="231.4" y="146.1" width="34.8" height="7.4" fill="#E31A1C"/><rect x="265.9" y="146.1" width="11.8" height="7.4" fill="#FC4E2A"/><rect x="277.4" y="146.1" width="6.0" height="7.4" fill="#E31A1C"/><rect x="283.1" y="146.1" width="57.7" height="7.4" fill="#FEB24C"/><rect x="64.9" y="153.3" width="11.8" height="7.4" fill="#FEB24C"/><rect x="76.4" y="153.3" width="11.8" height="7.4" fill="#FDC865"/><rect x="87.9" y="153.3" width="11.8" height="7.4" fill="#FED976"/><rect x="99.4" y="153.3" width="11.8" height="7.4" fill="#FDC865"/><rect x="110.8" y="153.3" width="11.8" height="7.4" fill="#FEB24C"/><rect x="122.3" y="153.3" width="11.8" height="7.4" fill="#FED976"/><rect x="133.8" y="153.3" width="34.8" height="7.4" fill="#FEB24C"/><rect x="168.3" y="153.3" width="57.7" height="7.4" fill="#FD8D3C"/><rect x="225.7" y="153.3" width="17.5" height="7.4" fill="#FC4E2A"/><rect x="242.9" y="153.3" width="29.0" height="7.4" fill="#E31A1C"/><rect x="271.6" y="153.3" width="6.0" height="7.4" fill="#FC4E2A"/><rect x="277.4" y="153.3" width="6.0" height="7.4" fill="#E31A1C"/><rect x="283.1" y="153.3" width="6.0" height="7.4" fill="#FD8D3C"/><rect x="288.9" y="153.3" width="52.0" height="7.4" fill="#FEB24C"/><rect x="64.9" y="160.4" width="6.0" height="7.4" fill="#FEB24C"/><rect x="70.6" y="160.4" width="17.5" height="7.4" fill="#FDC865"/><rect x="87.9" y="160.4" width="40.5" height="7.4" fill="#FEB24C"/><rect x="128.1" y="160.4" width="6.0" height="7.4" fill="#FC4E2A"/><rect x="133.8" y="160.4" width="6.0" height="7.4" fill="#FD8D3C"/><rect x="139.6" y="160.4" width="52.0" height="7.4" fill="#FEB24C"/><rect x="191.2" y="160.4" width="17.5" height="7.4" fill="#FD8D3C"/><rect x="208.5" y="160.4" width="11.8" height="7.4" fill="#FEB24C"/><rect x="219.9" y="160.4" width="17.5" height="7.4" fill="#FD8D3C"/><rect x="237.2" y="160.4" width="11.8" height="7.4" fill="#FC4E2A"/><rect x="248.7" y="160.4" width="11.8" height="7.4" fill="#FD8D3C"/><rect x="260.1" y="160.4" width="6.0" height="7.4" fill="#FC4E2A"/><rect x="265.9" y="160.4" width="6.0" height="7.4" fill="#E31A1C"/><rect x="271.6" y="160.4" width="6.0" height="7.4" fill="#BD0026"/><rect x="277.4" y="160.4" width="11.8" height="7.4" fill="#FC4E2A"/><rect x="288.9" y="160.4" width="6.0" height="7.4" fill="#FD8D3C"/><rect x="294.6" y="160.4" width="46.2" height="7.4" fill="#FEB24C"/><rect x="64.9" y="167.6" width="17.5" height="7.4" fill="#FDC865"/><rect x="82.1" y="167.6" width="29.0" height="7.4" fill="#FEB24C"/><rect x="110.8" y="167.6" width="6.0" height="7.4" fill="#FED976"/><rect x="116.6" y="167.6" width="11.8" height="7.4" fill="#FEB24C"/><rect x="128.1" y="167.6" width="11.8" height="7.4" fill="#FC4E2A"/><rect x="139.6" y="167.6" width="34.8" height="7.4" fill="#FEB24C"/><rect x="174.0" y="167.6" width="11.8" height="7.4" fill="#FED976"/><rect x="185.5" y="167.6" width="6.0" height="7.4" fill="#FEB24C"/><rect x="191.2" y="167.6" width="11.8" height="7.4" fill="#FD8D3C"/><rect x="202.7" y="167.6" width="17.5" height="7.4" fill="#FEB24C"/><rect x="219.9" y="167.6" width="34.8" height="7.4" fill="#FD8D3C"/><rect x="254.4" y="167.6" width="11.8" height="7.4" fill="#FED976"/><rect x="265.9" y="167.6" width="6.0" height="7.4" fill="#FEB24C"/><rect x="271.6" y="167.6" width="6.0" height="7.4" fill="#FD8D3C"/><rect x="277.4" y="167.6" width="6.0" height="7.4" fill="#FC4E2A"/><rect x="283.1" y="167.6" width="6.0" height="7.4" fill="#E31A1C"/><rect x="288.9" y="167.6" width="6.0" height="7.4" fill="#FD8D3C"/><rect x="294.6" y="167.6" width="11.8" height="7.4" fill="#FEB24C"/><rect x="306.1" y="167.6" width="34.8" height="7.4" fill="#FED976"/><rect x="64.9" y="174.7" width="11.8" height="7.4" fill="#FDC865"/><rect x="76.4" y="174.7" width="17.5" height="7.4" fill="#FEB24C"/><rect x="93.6" y="174.7" width="23.3" height="7.4" fill="#FED976"/><rect x="116.6" y="174.7" width="6.0" height="7.4" fill="#FFEDA0"/><rect x="122.3" y="174.7" width="6.0" height="7.4" fill="#FED976"/><rect x="128.1" y="174.7" width="6.0" height="7.4" fill="#FD8D3C"/><rect x="133.8" y="174.7" width="6.0" height="7.4" fill="#E31A1C"/><rect x="139.6" y="174.7" width="6.0" height="7.4" fill="#FD8D3C"/><rect x="145.3" y="174.7" width="11.8" height="7.4" fill="#FEB24C"/><rect x="156.8" y="174.7" width="29.0" height="7.4" fill="#FED976"/><rect x="185.5" y="174.7" width="63.5" height="7.4" fill="#FEB24C"/><rect x="248.7" y="174.7" width="29.0" height="7.4" fill="#FD8D3C"/><rect x="277.4" y="174.7" width="11.8" height="7.4" fill="#FC4E2A"/><rect x="288.9" y="174.7" width="11.8" height="7.4" fill="#FEB24C"/><rect x="300.3" y="174.7" width="40.5" height="7.4" fill="#FED976"/><rect x="70.6" y="181.8" width="17.5" height="7.4" fill="#FEB24C"/><rect x="87.9" y="181.8" width="17.5" height="7.4" fill="#FED976"/><rect x="105.1" y="181.8" width="23.3" height="7.4" fill="#FFEDA0"/><rect x="128.1" y="181.8" width="6.0" height="7.4" fill="#FEB24C"/><rect x="133.8" y="181.8" width="11.8" height="7.4" fill="#FC4E2A"/><rect x="145.3" y="181.8" width="6.0" height="7.4" fill="#FEB24C"/><rect x="151.0" y="181.8" width="6.0" height="7.4" fill="#FC4E2A"/><rect x="156.8" y="181.8" width="52.0" height="7.4" fill="#FED976"/><rect x="208.5" y="181.8" width="52.0" height="7.4" fill="#FEB24C"/><rect x="260.1" y="181.8" width="11.8" height="7.4" fill="#FD8D3C"/><rect x="271.6" y="181.8" width="11.8" height="7.4" fill="#FEB24C"/><rect x="283.1" y="181.8" width="11.8" height="7.4" fill="#FD8D3C"/><rect x="294.6" y="181.8" width="6.0" height="7.4" fill="#FEB24C"/><rect x="300.3" y="181.8" width="40.5" height="7.4" fill="#FED976"/><rect x="76.4" y="189.0" width="6.0" height="7.4" fill="#FEB24C"/><rect x="82.1" y="189.0" width="6.0" height="7.4" fill="#FED976"/><rect x="87.9" y="189.0" width="40.5" height="7.4" fill="#FFEDA0"/><rect x="128.1" y="189.0" width="6.0" height="7.4" fill="#FED976"/><rect x="133.8" y="189.0" width="6.0" height="7.4" fill="#FEB24C"/><rect x="139.6" y="189.0" width="6.0" height="7.4" fill="#FC4E2A"/><rect x="145.3" y="189.0" width="6.0" height="7.4" fill="#FED976"/><rect x="151.0" y="189.0" width="17.5" height="7.4" fill="#FC4E2A"/><rect x="168.3" y="189.0" width="17.5" height="7.4" fill="#FED976"/><rect x="185.5" y="189.0" width="6.0" height="7.4" fill="#FFEDA0"/><rect x="191.2" y="189.0" width="23.3" height="7.4" fill="#FED976"/><rect x="214.2" y="189.0" width="52.0" height="7.4" fill="#FEB24C"/><rect x="265.9" y="189.0" width="6.0" height="7.4" fill="#FD8D3C"/><rect x="271.6" y="189.0" width="6.0" height="7.4" fill="#FEB24C"/><rect x="277.4" y="189.0" width="6.0" height="7.4" fill="#FED976"/><rect x="283.1" y="189.0" width="6.0" height="7.4" fill="#FC4E2A"/><rect x="288.9" y="189.0" width="6.0" height="7.4" fill="#FD8D3C"/><rect x="294.6" y="189.0" width="6.0" height="7.4" fill="#FEB24C"/><rect x="300.3" y="189.0" width="40.5" height="7.4" fill="#FED976"/><rect x="76.4" y="196.1" width="6.0" height="7.4" fill="#FED976"/><rect x="82.1" y="196.1" width="52.0" height="7.4" fill="#FFEDA0"/><rect x="133.8" y="196.1" width="6.0" height="7.4" fill="#FED976"/><rect x="139.6" y="196.1" width="6.0" height="7.4" fill="#FEB24C"/><rect x="145.3" y="196.1" width="23.3" height="7.4" fill="#FC4E2A"/><rect x="168.3" y="196.1" width="6.0" height="7.4" fill="#FEB24C"/><rect x="174.0" y="196.1" width="11.8" height="7.4" fill="#FED976"/><rect x="185.5" y="196.1" width="11.8" height="7.4" fill="#FFEDA0"/><rect x="197.0" y="196.1" width="29.0" height="7.4" fill="#FED976"/><rect x="225.7" y="196.1" width="52.0" height="7.4" fill="#FEB24C"/><rect x="277.4" y="196.1" width="6.0" height="7.4" fill="#FED976"/><rect x="283.1" y="196.1" width="11.8" height="7.4" fill="#FEB24C"/><rect x="294.6" y="196.1" width="46.2" height="7.4" fill="#FED976"/><rect x="82.1" y="203.3" width="40.5" height="7.4" fill="#FFEDA0"/><rect x="122.3" y="203.3" width="6.0" height="7.4" fill="#FFFFCC"/><rect x="128.1" y="203.3" width="11.8" height="7.4" fill="#FFEDA0"/><rect x="139.6" y="203.3" width="6.0" height="7.4" fill="#FED976"/><rect x="145.3" y="203.3" width="6.0" height="7.4" fill="#FEB24C"/><rect x="151.0" y="203.3" width="6.0" height="7.4" fill="#FC4E2A"/><rect x="156.8" y="203.3" width="6.0" height="7.4" fill="#E31A1C"/><rect x="162.5" y="203.3" width="6.0" height="7.4" fill="#FC4E2A"/><rect x="168.3" y="203.3" width="6.0" height="7.4" fill="#FD8D3C"/><rect x="174.0" y="203.3" width="6.0" height="7.4" fill="#FED976"/><rect x="179.8" y="203.3" width="6.0" height="7.4" fill="#FC4E2A"/><rect x="185.5" y="203.3" width="6.0" height="7.4" fill="#FED976"/><rect x="191.2" y="203.3" width="11.8" height="7.4" fill="#FFEDA0"/><rect x="202.7" y="203.3" width="23.3" height="7.4" fill="#FED976"/><rect x="225.7" y="203.3" width="23.3" height="7.4" fill="#FEB24C"/><rect x="248.7" y="203.3" width="17.5" height="7.4" fill="#FED976"/><rect x="265.9" y="203.3" width="6.0" height="7.4" fill="#FEB24C"/><rect x="271.6" y="203.3" width="63.5" height="7.4" fill="#FED976"/><rect x="82.1" y="210.4" width="34.8" height="7.4" fill="#FFEDA0"/><rect x="116.6" y="210.4" width="11.8" height="7.4" fill="#FED976"/><rect x="128.1" y="210.4" width="11.8" height="7.4" fill="#FFEDA0"/><rect x="139.6" y="210.4" width="6.0" height="7.4" fill="#FED976"/><rect x="145.3" y="210.4" width="6.0" height="7.4" fill="#FEB24C"/><rect x="151.0" y="210.4" width="6.0" height="7.4" fill="#FD8D3C"/><rect x="156.8" y="210.4" width="6.0" height="7.4" fill="#FEB24C"/><rect x="162.5" y="210.4" width="17.5" height="7.4" fill="#FD8D3C"/><rect x="179.8" y="210.4" width="6.0" height="7.4" fill="#FC4E2A"/><rect x="185.5" y="210.4" width="6.0" height="7.4" fill="#FD8D3C"/><rect x="191.2" y="210.4" width="6.0" height="7.4" fill="#FEB24C"/><rect x="197.0" y="210.4" width="138.1" height="7.4" fill="#FED976"/><rect x="87.9" y="217.5" width="23.3" height="7.4" fill="#FFEDA0"/><rect x="110.8" y="217.5" width="17.5" height="7.4" fill="#FED976"/><rect x="128.1" y="217.5" width="17.5" height="7.4" fill="#FFEDA0"/><rect x="145.3" y="217.5" width="6.0" height="7.4" fill="#FED976"/><rect x="151.0" y="217.5" width="6.0" height="7.4" fill="#FEB24C"/><rect x="156.8" y="217.5" width="11.8" height="7.4" fill="#FED976"/><rect x="168.3" y="217.5" width="23.3" height="7.4" fill="#FD8D3C"/><rect x="191.2" y="217.5" width="6.0" height="7.4" fill="#FEB24C"/><rect x="197.0" y="217.5" width="29.0" height="7.4" fill="#FED976"/><rect x="225.7" y="217.5" width="6.0" height="7.4" fill="#FEB24C"/><rect x="231.4" y="217.5" width="11.8" height="7.4" fill="#FED976"/><rect x="242.9" y="217.5" width="6.0" height="7.4" fill="#FEB24C"/><rect x="248.7" y="217.5" width="23.3" height="7.4" fill="#FED976"/><rect x="271.6" y="217.5" width="6.0" height="7.4" fill="#FEB24C"/><rect x="277.4" y="217.5" width="17.5" height="7.4" fill="#FED976"/><rect x="294.6" y="217.5" width="11.8" height="7.4" fill="#FEB24C"/><rect x="306.1" y="217.5" width="6.0" height="7.4" fill="#FED976"/><rect x="311.8" y="217.5" width="23.3" height="7.4" fill="#FEB24C"/><rect x="93.6" y="224.7" width="11.8" height="7.4" fill="#FFEDA0"/><rect x="105.1" y="224.7" width="17.5" height="7.4" fill="#FED976"/><rect x="122.3" y="224.7" width="29.0" height="7.4" fill="#FFEDA0"/><rect x="151.0" y="224.7" width="6.0" height="7.4" fill="#FED976"/><rect x="156.8" y="224.7" width="6.0" height="7.4" fill="#FFEDA0"/><rect x="162.5" y="224.7" width="6.0" height="7.4" fill="#FED976"/><rect x="168.3" y="224.7" width="6.0" height="7.4" fill="#FEB24C"/><rect x="174.0" y="224.7" width="6.0" height="7.4" fill="#FD8D3C"/><rect x="179.8" y="224.7" width="11.8" height="7.4" fill="#FEB24C"/><rect x="191.2" y="224.7" width="11.8" height="7.4" fill="#FED976"/><rect x="202.7" y="224.7" width="6.0" height="7.4" fill="#FEB24C"/><rect x="208.5" y="224.7" width="17.5" height="7.4" fill="#FED976"/><rect x="225.7" y="224.7" width="6.0" height="7.4" fill="#FEB24C"/><rect x="231.4" y="224.7" width="34.8" height="7.4" fill="#FED976"/><rect x="265.9" y="224.7" width="6.0" height="7.4" fill="#FEB24C"/><rect x="271.6" y="224.7" width="6.0" height="7.4" fill="#FD8D3C"/><rect x="277.4" y="224.7" width="6.0" height="7.4" fill="#FEB24C"/><rect x="283.1" y="224.7" width="11.8" height="7.4" fill="#FED976"/><rect x="294.6" y="224.7" width="11.8" height="7.4" fill="#FD8D3C"/><rect x="306.1" y="224.7" width="29.0" height="7.4" fill="#FEB24C"/><rect x="99.4" y="231.8" width="17.5" height="7.4" fill="#FED976"/><rect x="116.6" y="231.8" width="52.0" height="7.4" fill="#FFEDA0"/><rect x="168.3" y="231.8" width="6.0" height="7.4" fill="#FED976"/><rect x="174.0" y="231.8" width="6.0" height="7.4" fill="#FEB24C"/><rect x="179.8" y="231.8" width="17.5" height="7.4" fill="#FED976"/><rect x="197.0" y="231.8" width="23.3" height="7.4" fill="#FEB24C"/><rect x="219.9" y="231.8" width="11.8" height="7.4" fill="#FED976"/><rect x="231.4" y="231.8" width="6.0" height="7.4" fill="#FEB24C"/><rect x="237.2" y="231.8" width="29.0" height="7.4" fill="#FED976"/><rect x="265.9" y="231.8" width="11.8" height="7.4" fill="#FEB24C"/><rect x="277.4" y="231.8" width="6.0" height="7.4" fill="#FD8D3C"/><rect x="283.1" y="231.8" width="6.0" height="7.4" fill="#FED976"/><rect x="288.9" y="231.8" width="6.0" height="7.4" fill="#FFEDA0"/><rect x="294.6" y="231.8" width="6.0" height="7.4" fill="#FEB24C"/><rect x="300.3" y="231.8" width="6.0" height="7.4" fill="#FD8D3C"/><rect x="306.1" y="231.8" width="29.0" height="7.4" fill="#FEB24C"/><rect x="116.6" y="239.0" width="57.7" height="7.4" fill="#FFEDA0"/><rect x="174.0" y="239.0" width="69.2" height="7.4" fill="#FED976"/><rect x="242.9" y="239.0" width="6.0" height="7.4" fill="#FFEDA0"/><rect x="248.7" y="239.0" width="17.5" height="7.4" fill="#FED976"/><rect x="265.9" y="239.0" width="17.5" height="7.4" fill="#FEB24C"/><rect x="283.1" y="239.0" width="6.0" height="7.4" fill="#FED976"/><rect x="288.9" y="239.0" width="6.0" height="7.4" fill="#FFEDA0"/><rect x="294.6" y="239.0" width="6.0" height="7.4" fill="#FEB24C"/><rect x="300.3" y="239.0" width="6.0" height="7.4" fill="#FD8D3C"/><rect x="306.1" y="239.0" width="29.0" height="7.4" fill="#FEB24C"/><rect x="128.1" y="246.1" width="69.2" height="7.4" fill="#FFEDA0"/><rect x="197.0" y="246.1" width="23.3" height="7.4" fill="#FED976"/><rect x="219.9" y="246.1" width="29.0" height="7.4" fill="#FFEDA0"/><rect x="248.7" y="246.1" width="52.0" height="7.4" fill="#FED976"/><rect x="300.3" y="246.1" width="6.0" height="7.4" fill="#FEB24C"/><rect x="306.1" y="246.1" width="11.8" height="7.4" fill="#FED976"/><rect x="317.6" y="246.1" width="17.5" height="7.4" fill="#FEB24C"/><rect x="133.8" y="253.2" width="143.9" height="7.4" fill="#FFEDA0"/><rect x="277.4" y="253.2" width="46.2" height="7.4" fill="#FED976"/><rect x="323.3" y="253.2" width="11.8" height="7.4" fill="#FEB24C"/><rect x="133.8" y="260.4" width="149.6" height="7.4" fill="#FFEDA0"/><rect x="283.1" y="260.4" width="46.2" height="7.4" fill="#FED976"/><rect x="329.1" y="260.4" width="6.0" height="7.4" fill="#FEB24C"/></g><path d="M231.4,7.6L231.8,10.5L232.4,12.6L236.3,15.8L240.0,19.0L242.7,22.3L244.0,21.0L246.6,18.3L249.0,17.0L252.9,19.8L256.1,24.3L262.0,28.2L267.2,29.5L272.4,28.8L278.9,29.5L283.3,32.0L286.0,33.5L286.7,32.0L288.6,34.0L286.7,37.9L290.6,39.2L295.1,37.9L298.4,36.6L301.0,39.9L303.6,43.8L306.1,46.2L311.8,46.2L311.8,7.6Z" fill="#fff"/><g fill="#fff" opacity="0.85"><circle cx="210.3" cy="75.4" r="0.9"/><circle cx="213" cy="74.5" r="0.8"/><circle cx="215.5" cy="73.2" r="0.9"/><circle cx="217.9" cy="72.2" r="1.0"/><circle cx="220.5" cy="71.2" r="0.9"/><circle cx="223.1" cy="70.3" r="1.1"/><circle cx="225.6" cy="72.8" r="1.0"/><circle cx="226.4" cy="75.5" r="0.8"/><circle cx="226.9" cy="79.2" r="0.9"/><circle cx="228.2" cy="82.5" r="0.7"/><circle cx="229.5" cy="85.6" r="0.8"/><circle cx="230.6" cy="89.3" r="0.7"/><circle cx="232" cy="93.3" r="0.8"/><circle cx="234.8" cy="101.2" r="1.0"/></g></g><g fill="none" stroke="#262626" stroke-width="0.75" stroke-linejoin="round"><path d="M90.7,10.5L156.3,10.5L156.3,47.3L157.7,53.3L134.0,53.3L130.4,54.3L126.9,54.5L122.3,55.9L115.4,56.9L108.5,58.3L100.5,58.2L95.9,59.5L90.6,58.3L90.2,54.7L87.9,51.6L83.3,50.5L77.5,49.8L75.8,49.5L75.5,44.8L74.7,39.8L74.1,34.8L71.8,29.0L68.9,24.0L68.0,19.3L74.1,21.9L82.1,22.6L86.7,23.3L90.2,24.0L92.5,30.5L93.6,36.2L95.9,34.8L95.3,29.0L95.9,24.8L94.2,19.0L92.5,14.8L90.7,10.5Z"/><path d="M74.0,110.4L71.8,104.7L70.6,99.0L71.8,94.7L73.5,89.0L75.0,81.9L75.6,73.3L77.0,64.7L77.0,59.0L77.2,53.3L75.8,49.5L77.5,49.8L83.3,50.5L87.9,51.6L90.2,54.7L90.6,58.3L95.9,59.5L100.5,58.2L108.5,58.3L115.4,56.9L122.3,55.9L126.9,54.5L130.4,54.3L134.0,53.3L157.7,53.3L157.7,53.3L159.3,55.5L161.9,57.6L163.0,59.5L161.6,61.2L159.9,65.5L158.5,67.6L156.8,71.2L154.5,75.5L154.5,77.6L157.1,79.0L157.9,81.9L156.4,84.7L156.4,110.4Z"/><path d="M155.4,245.7L153.6,239.0L152.2,236.1L146.4,230.4L141.8,228.7L140.7,228.2L139.6,224.3L136.1,224.7L131.5,222.5L128.1,219.0L122.3,218.1L116.9,218.3L115.0,216.5L115.4,211.8L114.9,207.5L112.0,204.0L107.4,200.8L105.1,196.1L100.5,191.8L99.9,187.6L101.7,184.7L99.4,182.3L94.8,179.0L93.6,174.7L93.6,170.4L91.3,169.0L87.9,167.6L87.9,163.3L82.1,157.6L79.3,153.3L78.7,146.1L78.1,141.1L75.2,137.6L71.8,133.3L74.1,128.3L75.2,124.7L74.7,117.6L74.1,114.0L74.0,110.4L122.3,110.4L122.3,153.3L184.0,210.4L184.7,212.5L186.3,216.1L189.7,220.4L186.3,224.0L185.1,225.7L185.5,229.7L183.0,233.2L183.2,237.5L185.5,239.7L185.8,241.2L183.0,243.0L155.4,245.7Z"/><path d="M122.3,110.4L190.8,110.4L190.8,193.4L187.8,195.4L182.7,196.1L183.2,199.0L183.7,203.3L184.0,210.4L122.3,153.3Z"/><path d="M156.3,10.5L167.7,10.5L167.7,25.0L171.7,29.0L171.7,32.6L176.3,35.5L180.3,39.8L184.9,44.0L187.2,44.0L186.1,50.5L185.5,55.5L187.2,60.5L191.2,59.7L193.5,59.0L197.0,66.2L200.4,69.0L202.7,75.5L205.0,76.2L209.6,75.5L213.1,74.0L219.9,74.0L221.1,71.6L225.1,75.0L225.1,110.4L156.4,110.4L156.4,84.7L157.9,81.9L157.1,79.0L154.5,77.6L154.5,75.5L156.8,71.2L158.5,67.6L159.9,65.5L161.6,61.2L163.0,59.5L161.9,57.6L159.3,55.5L157.7,53.3L156.3,47.3Z"/><path d="M167.7,10.5L305.6,10.5L305.6,67.6L225.1,67.6L225.1,75.0L221.1,71.6L219.9,74.0L213.1,74.0L209.6,75.5L205.0,76.2L202.7,75.5L200.4,69.0L197.0,66.2L193.5,59.0L191.2,59.7L187.2,60.5L185.5,55.5L186.1,50.5L187.2,44.0L184.9,44.0L180.3,39.8L176.3,35.5L171.7,32.6L171.7,29.0L167.7,25.0Z"/><path d="M225.1,67.6L305.5,67.6L305.5,124.7L225.1,124.7Z"/><path d="M190.8,110.4L225.1,110.4L225.1,124.7L248.1,124.7L248.1,181.8L190.7,181.8Z"/><path d="M248.1,124.7L328.5,124.7L328.5,181.8L248.1,181.8Z"/><path d="M190.7,181.8L248.1,181.8L248.1,262.8L224.9,262.8L181.8,246.2L183.0,243.0L185.8,241.2L185.5,239.7L183.2,237.5L183.0,233.2L185.5,229.7L185.1,225.7L186.3,224.0L189.7,220.4L186.3,216.1L184.7,212.5L184.0,210.4L183.7,203.3L183.2,199.0L182.7,196.1L187.8,195.4L190.8,193.4Z"/><path d="M248.1,181.8L317.6,181.8L316.9,253.2L276.0,253.2L277.0,256.4L257.8,256.4L257.8,262.8L248.1,262.8Z"/></g><g transform="translate(0,0)"><path d="M87.0,10.0L90.0,10.5L91.5,12.0L92.5,14.0L93.5,16.0L93.0,18.5L95.0,19.5L95.5,22.0L97.5,24.0L97.5,25.5L95.5,26.0L95.8,29.0L95.0,32.0L94.0,34.5L92.5,37.0L90.5,38.0L88.0,37.5L87.0,35.0L87.5,32.0L89.0,29.5L88.0,27.0L89.5,24.0L89.0,21.5L88.0,19.0L86.0,17.0L85.5,14.5L86.5,12.0Z" fill="#111"/><ellipse cx="90.8" cy="29.5" rx="1.2" ry="2.2" fill="#F5C060"/><ellipse cx="91.5" cy="22" rx="0.9" ry="1.5" fill="#E8A050"/><path d="M74.8,38.6 L76.5,39.2 L78.4,39.7 M75.9,42.4 L76.3,45.5 L76.9,49.8 M76.4,49.1 L78.2,49.4 L80.0,49.8" fill="none" stroke="#141414" stroke-width="1.5" stroke-linecap="round"/><path d="M88.2,163.8 L89.2,165.6 L90.2,167.4 M94.6,165.9 L96.5,165.4 L98.5,165.9 L100.5,165.2 L102.5,165.6 L104.2,165.0 M95.2,166.2 L95.8,168.5 L96.6,171 L97.8,173.5 L99.2,175.2" fill="none" stroke="#1a1a1a" stroke-width="1.2"/><path d="M117.2,223.4 L120.5,224.4 L123.5,224.0 L126.5,224.6 L129.8,224.9" fill="none" stroke="#1a1a1a" stroke-width="1.1"/><ellipse cx="127.3" cy="234.7" rx="0.9" ry="0.6" fill="#1a1a1a"/><ellipse cx="133.2" cy="232.1" rx="0.4" ry="0.4" fill="#1a1a1a"/><ellipse cx="139.7" cy="233.6" rx="0.7" ry="1.1" transform="rotate(-35 139.7 233.6)" fill="#1a1a1a"/><ellipse cx="139.9" cy="240.6" rx="0.6" ry="1.3" transform="rotate(-35 139.9 240.6)" fill="#1a1a1a"/></g><rect x="57.2" y="0.5" width="281.4" height="272.3" fill="none" stroke="#1a1a1a" stroke-width="1.1"/><line x1="64.90" y1="272.8" x2="64.90" y2="281.6" stroke="#1a1a1a" stroke-width="1.1"/><line x1="122.33" y1="272.8" x2="122.33" y2="281.6" stroke="#1a1a1a" stroke-width="1.1"/><line x1="179.75" y1="272.8" x2="179.75" y2="281.6" stroke="#1a1a1a" stroke-width="1.1"/><line x1="237.17" y1="272.8" x2="237.17" y2="281.6" stroke="#1a1a1a" stroke-width="1.1"/><line x1="294.60" y1="272.8" x2="294.60" y2="281.6" stroke="#1a1a1a" stroke-width="1.1"/><line x1="47.9" y1="67.60" x2="57.2" y2="67.60" stroke="#1a1a1a" stroke-width="1.1"/><line x1="47.9" y1="139.00" x2="57.2" y2="139.00" stroke="#1a1a1a" stroke-width="1.1"/><line x1="47.9" y1="210.40" x2="57.2" y2="210.40" stroke="#1a1a1a" stroke-width="1.1"/><clipPath id="land369"><path d="M460.2,10.5L525.8,10.5L525.8,47.3L527.2,53.3L503.5,53.3L499.9,54.3L496.4,54.5L491.8,55.9L484.9,56.9L478.0,58.3L470.0,58.2L465.4,59.5L460.1,58.3L459.7,54.7L457.4,51.6L452.8,50.5L447.0,49.8L445.3,49.5L445.0,44.8L444.2,39.8L443.6,34.8L441.3,29.0L438.4,24.0L437.5,19.3L443.6,21.9L451.6,22.6L456.2,23.3L459.7,24.0L462.0,30.5L463.1,36.2L465.4,34.8L464.8,29.0L465.4,24.8L463.7,19.0L462.0,14.8L460.2,10.5Z"/><path d="M443.5,110.4L441.3,104.7L440.1,99.0L441.3,94.7L443.0,89.0L444.5,81.9L445.1,73.3L446.5,64.7L446.5,59.0L446.7,53.3L445.3,49.5L447.0,49.8L452.8,50.5L457.4,51.6L459.7,54.7L460.1,58.3L465.4,59.5L470.0,58.2L478.0,58.3L484.9,56.9L491.8,55.9L496.4,54.5L499.9,54.3L503.5,53.3L527.2,53.3L527.2,53.3L528.8,55.5L531.4,57.6L532.5,59.5L531.1,61.2L529.4,65.5L528.0,67.6L526.3,71.2L524.0,75.5L524.0,77.6L526.6,79.0L527.4,81.9L525.9,84.7L525.9,110.4Z"/><path d="M524.9,245.7L523.1,239.0L521.7,236.1L515.9,230.4L511.3,228.7L510.2,228.2L509.1,224.3L505.6,224.7L501.0,222.5L497.6,219.0L491.8,218.1L486.4,218.3L484.5,216.5L484.9,211.8L484.4,207.5L481.5,204.0L476.9,200.8L474.6,196.1L470.0,191.8L469.4,187.6L471.2,184.7L468.9,182.3L464.3,179.0L463.1,174.7L463.1,170.4L460.8,169.0L457.4,167.6L457.4,163.3L451.6,157.6L448.8,153.3L448.2,146.1L447.6,141.1L444.7,137.6L441.3,133.3L443.6,128.3L444.7,124.7L444.2,117.6L443.6,114.0L443.5,110.4L491.8,110.4L491.8,153.3L553.5,210.4L554.2,212.5L555.8,216.1L559.2,220.4L555.8,224.0L554.6,225.7L555.0,229.7L552.5,233.2L552.7,237.5L555.0,239.7L555.3,241.2L552.5,243.0L524.9,245.7Z"/><path d="M491.8,110.4L560.3,110.4L560.3,193.4L557.3,195.4L552.2,196.1L552.7,199.0L553.2,203.3L553.5,210.4L491.8,153.3Z"/><path d="M525.8,10.5L537.2,10.5L537.2,25.0L541.2,29.0L541.2,32.6L545.8,35.5L549.8,39.8L554.4,44.0L556.7,44.0L555.6,50.5L555.0,55.5L556.7,60.5L560.7,59.7L563.0,59.0L566.5,66.2L569.9,69.0L572.2,75.5L574.5,76.2L579.1,75.5L582.6,74.0L589.4,74.0L590.6,71.6L594.6,75.0L594.6,110.4L525.9,110.4L525.9,84.7L527.4,81.9L526.6,79.0L524.0,77.6L524.0,75.5L526.3,71.2L528.0,67.6L529.4,65.5L531.1,61.2L532.5,59.5L531.4,57.6L528.8,55.5L527.2,53.3L525.8,47.3Z"/><path d="M537.2,10.5L675.1,10.5L675.1,67.6L594.6,67.6L594.6,75.0L590.6,71.6L589.4,74.0L582.6,74.0L579.1,75.5L574.5,76.2L572.2,75.5L569.9,69.0L566.5,66.2L563.0,59.0L560.7,59.7L556.7,60.5L555.0,55.5L555.6,50.5L556.7,44.0L554.4,44.0L549.8,39.8L545.8,35.5L541.2,32.6L541.2,29.0L537.2,25.0Z"/><path d="M594.6,67.6L675.0,67.6L675.0,124.7L594.6,124.7Z"/><path d="M560.3,110.4L594.6,110.4L594.6,124.7L617.6,124.7L617.6,181.8L560.2,181.8Z"/><path d="M617.6,124.7L698.0,124.7L698.0,181.8L617.6,181.8Z"/><path d="M560.2,181.8L617.6,181.8L617.6,262.8L594.4,262.8L551.3,246.2L552.5,243.0L555.3,241.2L555.0,239.7L552.7,237.5L552.5,233.2L555.0,229.7L554.6,225.7L555.8,224.0L559.2,220.4L555.8,216.1L554.2,212.5L553.5,210.4L553.2,203.3L552.7,199.0L552.2,196.1L557.3,195.4L560.3,193.4Z"/><path d="M617.6,181.8L687.1,181.8L686.4,253.2L645.5,253.2L646.5,256.4L627.3,256.4L627.3,262.8L617.6,262.8Z"/></clipPath><g clip-path="url(#land369)"><g filter="url(#bl)"><rect x="434.4" y="10.5" width="6.0" height="7.4" fill="#FEE08F"/><rect x="440.1" y="10.5" width="11.8" height="7.4" fill="#FFEDA0"/><rect x="451.6" y="10.5" width="17.5" height="7.4" fill="#FEE08F"/><rect x="468.9" y="10.5" width="6.0" height="7.4" fill="#FFEDA0"/><rect x="474.6" y="10.5" width="11.8" height="7.4" fill="#FEE08F"/><rect x="486.1" y="10.5" width="40.5" height="7.4" fill="#FFEDA0"/><rect x="526.3" y="10.5" width="29.0" height="7.4" fill="#FEE08F"/><rect x="555.0" y="10.5" width="23.3" height="7.4" fill="#FDC865"/><rect x="578.0" y="10.5" width="40.5" height="7.4" fill="#FFF4C4"/><rect x="618.2" y="10.5" width="75.0" height="7.4" fill="#FFEDA0"/><rect x="434.4" y="17.6" width="6.0" height="7.4" fill="#FEE08F"/><rect x="440.1" y="17.6" width="11.8" height="7.4" fill="#FFEDA0"/><rect x="451.6" y="17.6" width="23.3" height="7.4" fill="#FEE08F"/><rect x="474.6" y="17.6" width="6.0" height="7.4" fill="#FDC865"/><rect x="480.3" y="17.6" width="6.0" height="7.4" fill="#FEE08F"/><rect x="486.1" y="17.6" width="17.5" height="7.4" fill="#FFEDA0"/><rect x="503.3" y="17.6" width="6.0" height="7.4" fill="#FEE08F"/><rect x="509.1" y="17.6" width="17.5" height="7.4" fill="#FFEDA0"/><rect x="526.3" y="17.6" width="6.0" height="7.4" fill="#FEE08F"/><rect x="532.0" y="17.6" width="6.0" height="7.4" fill="#FDC865"/><rect x="537.8" y="17.6" width="23.3" height="7.4" fill="#FEE08F"/><rect x="560.7" y="17.6" width="17.5" height="7.4" fill="#FDC865"/><rect x="578.0" y="17.6" width="40.5" height="7.4" fill="#FFF4C4"/><rect x="618.2" y="17.6" width="75.0" height="7.4" fill="#FFEDA0"/><rect x="434.4" y="24.8" width="6.0" height="7.4" fill="#FEE08F"/><rect x="440.1" y="24.8" width="6.0" height="7.4" fill="#FFEDA0"/><rect x="445.9" y="24.8" width="29.0" height="7.4" fill="#FEE08F"/><rect x="474.6" y="24.8" width="6.0" height="7.4" fill="#FDC865"/><rect x="480.3" y="24.8" width="11.8" height="7.4" fill="#FEE08F"/><rect x="491.8" y="24.8" width="17.5" height="7.4" fill="#FED976"/><rect x="509.1" y="24.8" width="6.0" height="7.4" fill="#FEE08F"/><rect x="514.8" y="24.8" width="6.0" height="7.4" fill="#FFEDA0"/><rect x="520.5" y="24.8" width="40.5" height="7.4" fill="#FEE08F"/><rect x="560.7" y="24.8" width="17.5" height="7.4" fill="#FDC865"/><rect x="578.0" y="24.8" width="6.0" height="7.4" fill="#FEE08F"/><rect x="583.7" y="24.8" width="34.8" height="7.4" fill="#FFF4C4"/><rect x="618.2" y="24.8" width="75.0" height="7.4" fill="#FFEDA0"/><rect x="434.4" y="31.9" width="34.8" height="7.4" fill="#FEE08F"/><rect x="468.9" y="31.9" width="6.0" height="7.4" fill="#FDC865"/><rect x="474.6" y="31.9" width="6.0" height="7.4" fill="#FEB24C"/><rect x="480.3" y="31.9" width="11.8" height="7.4" fill="#FEE08F"/><rect x="491.8" y="31.9" width="23.3" height="7.4" fill="#FED976"/><rect x="514.8" y="31.9" width="52.0" height="7.4" fill="#FEE08F"/><rect x="566.5" y="31.9" width="6.0" height="7.4" fill="#FDC865"/><rect x="572.2" y="31.9" width="11.8" height="7.4" fill="#FEE08F"/><rect x="583.7" y="31.9" width="34.8" height="7.4" fill="#FFF4C4"/><rect x="618.2" y="31.9" width="75.0" height="7.4" fill="#FFEDA0"/><rect x="434.4" y="39.0" width="34.8" height="7.4" fill="#FEE08F"/><rect x="468.9" y="39.0" width="11.8" height="7.4" fill="#FDC865"/><rect x="480.3" y="39.0" width="11.8" height="7.4" fill="#FEE08F"/><rect x="491.8" y="39.0" width="23.3" height="7.4" fill="#FED976"/><rect x="514.8" y="39.0" width="69.2" height="7.4" fill="#FEE08F"/><rect x="583.7" y="39.0" width="23.3" height="7.4" fill="#FDC865"/><rect x="606.7" y="39.0" width="6.0" height="7.4" fill="#FFF4C4"/><rect x="612.4" y="39.0" width="6.0" height="7.4" fill="#FEE08F"/><rect x="618.2" y="39.0" width="75.0" height="7.4" fill="#FFEDA0"/><rect x="434.4" y="46.2" width="149.6" height="7.4" fill="#FEE08F"/><rect x="583.7" y="46.2" width="6.0" height="7.4" fill="#FDC865"/><rect x="589.4" y="46.2" width="6.0" height="7.4" fill="#FEB24C"/><rect x="595.2" y="46.2" width="11.8" height="7.4" fill="#FDC865"/><rect x="606.7" y="46.2" width="11.8" height="7.4" fill="#FFF4C4"/><rect x="618.2" y="46.2" width="75.0" height="7.4" fill="#FFEDA0"/><rect x="434.4" y="53.3" width="92.2" height="7.4" fill="#FEE08F"/><rect x="526.3" y="53.3" width="6.0" height="7.4" fill="#FDC865"/><rect x="532.0" y="53.3" width="52.0" height="7.4" fill="#FEE08F"/><rect x="583.7" y="53.3" width="11.8" height="7.4" fill="#FDC865"/><rect x="595.2" y="53.3" width="6.0" height="7.4" fill="#FD8D3C"/><rect x="600.9" y="53.3" width="6.0" height="7.4" fill="#FC4E2A"/><rect x="606.7" y="53.3" width="6.0" height="7.4" fill="#FD8D3C"/><rect x="612.4" y="53.3" width="6.0" height="7.4" fill="#FDC865"/><rect x="618.2" y="53.3" width="75.0" height="7.4" fill="#FFEDA0"/><rect x="434.4" y="60.5" width="126.6" height="7.4" fill="#FEE08F"/><rect x="560.7" y="60.5" width="23.3" height="7.4" fill="#FDC865"/><rect x="583.7" y="60.5" width="6.0" height="7.4" fill="#FEB24C"/><rect x="589.4" y="60.5" width="6.0" height="7.4" fill="#FDC865"/><rect x="595.2" y="60.5" width="6.0" height="7.4" fill="#FD8D3C"/><rect x="600.9" y="60.5" width="6.0" height="7.4" fill="#FC4E2A"/><rect x="606.7" y="60.5" width="6.0" height="7.4" fill="#FD8D3C"/><rect x="612.4" y="60.5" width="6.0" height="7.4" fill="#FDC865"/><rect x="618.2" y="60.5" width="75.0" height="7.4" fill="#FFEDA0"/><rect x="434.4" y="67.6" width="52.0" height="7.4" fill="#FEE08F"/><rect x="486.1" y="67.6" width="11.8" height="7.4" fill="#FED976"/><rect x="497.6" y="67.6" width="29.0" height="7.4" fill="#FEE08F"/><rect x="526.3" y="67.6" width="34.8" height="7.4" fill="#FEE7A0"/><rect x="560.7" y="67.6" width="6.0" height="7.4" fill="#FDC865"/><rect x="566.5" y="67.6" width="6.0" height="7.4" fill="#FEB24C"/><rect x="572.2" y="67.6" width="6.0" height="7.4" fill="#FDC865"/><rect x="578.0" y="67.6" width="17.5" height="7.4" fill="#FEE7A0"/><rect x="595.2" y="67.6" width="6.0" height="7.4" fill="#FFFFFF"/><rect x="600.9" y="67.6" width="6.0" height="7.4" fill="#E31A1C"/><rect x="606.7" y="67.6" width="6.0" height="7.4" fill="#FC4E2A"/><rect x="612.4" y="67.6" width="6.0" height="7.4" fill="#FD8D3C"/><rect x="618.2" y="67.6" width="11.8" height="7.4" fill="#FEE08F"/><rect x="629.6" y="67.6" width="11.8" height="7.4" fill="#FDC865"/><rect x="641.1" y="67.6" width="6.0" height="7.4" fill="#FEE08F"/><rect x="646.9" y="67.6" width="17.5" height="7.4" fill="#FFEDA0"/><rect x="664.1" y="67.6" width="29.0" height="7.4" fill="#FEE08F"/><rect x="434.4" y="74.7" width="40.5" height="7.4" fill="#FEE08F"/><rect x="474.6" y="74.7" width="23.3" height="7.4" fill="#FED976"/><rect x="497.6" y="74.7" width="29.0" height="7.4" fill="#FEE08F"/><rect x="526.3" y="74.7" width="23.3" height="7.4" fill="#FEE7A0"/><rect x="549.2" y="74.7" width="11.8" height="7.4" fill="#FFF4C4"/><rect x="560.7" y="74.7" width="11.8" height="7.4" fill="#FDC865"/><rect x="572.2" y="74.7" width="23.3" height="7.4" fill="#FEE7A0"/><rect x="595.2" y="74.7" width="6.0" height="7.4" fill="#FFFFFF"/><rect x="600.9" y="74.7" width="6.0" height="7.4" fill="#FC4E2A"/><rect x="606.7" y="74.7" width="6.0" height="7.4" fill="#FD8D3C"/><rect x="612.4" y="74.7" width="6.0" height="7.4" fill="#FDC865"/><rect x="618.2" y="74.7" width="6.0" height="7.4" fill="#FEE08F"/><rect x="623.9" y="74.7" width="6.0" height="7.4" fill="#FDC865"/><rect x="629.6" y="74.7" width="6.0" height="7.4" fill="#FEE08F"/><rect x="635.4" y="74.7" width="6.0" height="7.4" fill="#FDC865"/><rect x="641.1" y="74.7" width="6.0" height="7.4" fill="#FEE08F"/><rect x="646.9" y="74.7" width="11.8" height="7.4" fill="#FFEDA0"/><rect x="658.4" y="74.7" width="34.8" height="7.4" fill="#FEE08F"/><rect x="434.4" y="81.9" width="40.5" height="7.4" fill="#FEE08F"/><rect x="474.6" y="81.9" width="29.0" height="7.4" fill="#FED976"/><rect x="503.3" y="81.9" width="23.3" height="7.4" fill="#FEE08F"/><rect x="526.3" y="81.9" width="23.3" height="7.4" fill="#FEE7A0"/><rect x="549.2" y="81.9" width="17.5" height="7.4" fill="#FFF4C4"/><rect x="566.5" y="81.9" width="29.0" height="7.4" fill="#FEE7A0"/><rect x="595.2" y="81.9" width="6.0" height="7.4" fill="#FFFFFF"/><rect x="600.9" y="81.9" width="17.5" height="7.4" fill="#FD8D3C"/><rect x="618.2" y="81.9" width="17.5" height="7.4" fill="#FEE08F"/><rect x="635.4" y="81.9" width="6.0" height="7.4" fill="#FDC865"/><rect x="641.1" y="81.9" width="6.0" height="7.4" fill="#FEE08F"/><rect x="646.9" y="81.9" width="6.0" height="7.4" fill="#FFEDA0"/><rect x="652.6" y="81.9" width="17.5" height="7.4" fill="#FEE08F"/><rect x="669.8" y="81.9" width="23.3" height="7.4" fill="#FFEDA0"/><rect x="434.4" y="89.0" width="40.5" height="7.4" fill="#FEE08F"/><rect x="474.6" y="89.0" width="11.8" height="7.4" fill="#FED976"/><rect x="486.1" y="89.0" width="11.8" height="7.4" fill="#FEE08F"/><rect x="497.6" y="89.0" width="6.0" height="7.4" fill="#FED976"/><rect x="503.3" y="89.0" width="23.3" height="7.4" fill="#FEE08F"/><rect x="526.3" y="89.0" width="34.8" height="7.4" fill="#FEE7A0"/><rect x="560.7" y="89.0" width="6.0" height="7.4" fill="#FFF4C4"/><rect x="566.5" y="89.0" width="29.0" height="7.4" fill="#FEE7A0"/><rect x="595.2" y="89.0" width="6.0" height="7.4" fill="#FFFFFF"/><rect x="600.9" y="89.0" width="6.0" height="7.4" fill="#FEE08F"/><rect x="606.7" y="89.0" width="11.8" height="7.4" fill="#FD8D3C"/><rect x="618.2" y="89.0" width="6.0" height="7.4" fill="#FDC865"/><rect x="623.9" y="89.0" width="40.5" height="7.4" fill="#FEE08F"/><rect x="664.1" y="89.0" width="29.0" height="7.4" fill="#FFEDA0"/><rect x="434.4" y="96.2" width="57.7" height="7.4" fill="#FEE08F"/><rect x="491.8" y="96.2" width="6.0" height="7.4" fill="#FDC865"/><rect x="497.6" y="96.2" width="6.0" height="7.4" fill="#FEB24C"/><rect x="503.3" y="96.2" width="23.3" height="7.4" fill="#FEE08F"/><rect x="526.3" y="96.2" width="69.2" height="7.4" fill="#FEE7A0"/><rect x="595.2" y="96.2" width="17.5" height="7.4" fill="#FEE08F"/><rect x="612.4" y="96.2" width="6.0" height="7.4" fill="#FD8D3C"/><rect x="618.2" y="96.2" width="6.0" height="7.4" fill="#FEE08F"/><rect x="623.9" y="96.2" width="6.0" height="7.4" fill="#FDC865"/><rect x="629.6" y="96.2" width="34.8" height="7.4" fill="#FEE08F"/><rect x="664.1" y="96.2" width="29.0" height="7.4" fill="#FFEDA0"/><rect x="434.4" y="103.3" width="63.5" height="7.4" fill="#FEE08F"/><rect x="497.6" y="103.3" width="6.0" height="7.4" fill="#FDC865"/><rect x="503.3" y="103.3" width="23.3" height="7.4" fill="#FEE08F"/><rect x="526.3" y="103.3" width="69.2" height="7.4" fill="#FEE7A0"/><rect x="595.2" y="103.3" width="52.0" height="7.4" fill="#FEE08F"/><rect x="646.9" y="103.3" width="6.0" height="7.4" fill="#FDC865"/><rect x="652.6" y="103.3" width="11.8" height="7.4" fill="#FEE08F"/><rect x="664.1" y="103.3" width="46.2" height="7.4" fill="#FFEDA0"/><rect x="434.4" y="110.4" width="40.5" height="7.4" fill="#FEE08F"/><rect x="474.6" y="110.4" width="11.8" height="7.4" fill="#FED976"/><rect x="486.1" y="110.4" width="52.0" height="7.4" fill="#FEE08F"/><rect x="537.8" y="110.4" width="17.5" height="7.4" fill="#FDC865"/><rect x="555.0" y="110.4" width="11.8" height="7.4" fill="#FEE08F"/><rect x="566.5" y="110.4" width="29.0" height="7.4" fill="#FFEDA0"/><rect x="595.2" y="110.4" width="11.8" height="7.4" fill="#FEE08F"/><rect x="606.7" y="110.4" width="6.0" height="7.4" fill="#FFF4C4"/><rect x="612.4" y="110.4" width="11.8" height="7.4" fill="#FEE08F"/><rect x="623.9" y="110.4" width="6.0" height="7.4" fill="#FDC865"/><rect x="629.6" y="110.4" width="29.0" height="7.4" fill="#FEE08F"/><rect x="658.4" y="110.4" width="6.0" height="7.4" fill="#FDC865"/><rect x="664.1" y="110.4" width="17.5" height="7.4" fill="#FEE08F"/><rect x="681.3" y="110.4" width="29.0" height="7.4" fill="#FFEDA0"/><rect x="434.4" y="117.6" width="40.5" height="7.4" fill="#FEE08F"/><rect x="474.6" y="117.6" width="17.5" height="7.4" fill="#FED976"/><rect x="491.8" y="117.6" width="40.5" height="7.4" fill="#FEE08F"/><rect x="532.0" y="117.6" width="6.0" height="7.4" fill="#FFEDA0"/><rect x="537.8" y="117.6" width="6.0" height="7.4" fill="#FEE08F"/><rect x="543.5" y="117.6" width="6.0" height="7.4" fill="#FDC865"/><rect x="549.2" y="117.6" width="6.0" height="7.4" fill="#FEE08F"/><rect x="555.0" y="117.6" width="6.0" height="7.4" fill="#FFEDA0"/><rect x="560.7" y="117.6" width="6.0" height="7.4" fill="#FC4E2A"/><rect x="566.5" y="117.6" width="29.0" height="7.4" fill="#FFEDA0"/><rect x="595.2" y="117.6" width="6.0" height="7.4" fill="#FEE08F"/><rect x="600.9" y="117.6" width="11.8" height="7.4" fill="#FFF4C4"/><rect x="612.4" y="117.6" width="34.8" height="7.4" fill="#FEE08F"/><rect x="646.9" y="117.6" width="6.0" height="7.4" fill="#FDC865"/><rect x="652.6" y="117.6" width="6.0" height="7.4" fill="#FEE08F"/><rect x="658.4" y="117.6" width="6.0" height="7.4" fill="#FDC865"/><rect x="664.1" y="117.6" width="11.8" height="7.4" fill="#FEE08F"/><rect x="675.6" y="117.6" width="34.8" height="7.4" fill="#FFEDA0"/><rect x="434.4" y="124.7" width="40.5" height="7.4" fill="#FEE08F"/><rect x="474.6" y="124.7" width="17.5" height="7.4" fill="#FED976"/><rect x="491.8" y="124.7" width="40.5" height="7.4" fill="#FEE08F"/><rect x="532.0" y="124.7" width="29.0" height="7.4" fill="#FFEDA0"/><rect x="560.7" y="124.7" width="11.8" height="7.4" fill="#FC4E2A"/><rect x="572.2" y="124.7" width="6.0" height="7.4" fill="#FDC865"/><rect x="578.0" y="124.7" width="23.3" height="7.4" fill="#FFEDA0"/><rect x="600.9" y="124.7" width="40.5" height="7.4" fill="#FEE08F"/><rect x="641.1" y="124.7" width="23.3" height="7.4" fill="#FDC865"/><rect x="664.1" y="124.7" width="46.2" height="7.4" fill="#FFEDA0"/><rect x="434.4" y="131.9" width="23.3" height="7.4" fill="#FEE08F"/><rect x="457.4" y="131.9" width="6.0" height="7.4" fill="#FED976"/><rect x="463.1" y="131.9" width="6.0" height="7.4" fill="#FEB24C"/><rect x="468.9" y="131.9" width="17.5" height="7.4" fill="#FED976"/><rect x="486.1" y="131.9" width="46.2" height="7.4" fill="#FEE08F"/><rect x="532.0" y="131.9" width="29.0" height="7.4" fill="#FFEDA0"/><rect x="560.7" y="131.9" width="11.8" height="7.4" fill="#FC4E2A"/><rect x="572.2" y="131.9" width="23.3" height="7.4" fill="#FFEDA0"/><rect x="595.2" y="131.9" width="46.2" height="7.4" fill="#FEE08F"/><rect x="641.1" y="131.9" width="23.3" height="7.4" fill="#FDC865"/><rect x="664.1" y="131.9" width="11.8" height="7.4" fill="#FFEDA0"/><rect x="675.6" y="131.9" width="6.0" height="7.4" fill="#FDC865"/><rect x="681.3" y="131.9" width="29.0" height="7.4" fill="#FFEDA0"/><rect x="434.4" y="139.0" width="23.3" height="7.4" fill="#FEE08F"/><rect x="457.4" y="139.0" width="6.0" height="7.4" fill="#FED976"/><rect x="463.1" y="139.0" width="11.8" height="7.4" fill="#FEB24C"/><rect x="474.6" y="139.0" width="11.8" height="7.4" fill="#FED976"/><rect x="486.1" y="139.0" width="46.2" height="7.4" fill="#FEE08F"/><rect x="532.0" y="139.0" width="29.0" height="7.4" fill="#FFEDA0"/><rect x="560.7" y="139.0" width="17.5" height="7.4" fill="#FC4E2A"/><rect x="578.0" y="139.0" width="17.5" height="7.4" fill="#FFEDA0"/><rect x="595.2" y="139.0" width="46.2" height="7.4" fill="#FEE08F"/><rect x="641.1" y="139.0" width="23.3" height="7.4" fill="#FDC865"/><rect x="664.1" y="139.0" width="46.2" height="7.4" fill="#FFEDA0"/><rect x="434.4" y="146.1" width="29.0" height="7.4" fill="#FEE08F"/><rect x="463.1" y="146.1" width="17.5" height="7.4" fill="#FEB24C"/><rect x="480.3" y="146.1" width="6.0" height="7.4" fill="#FED976"/><rect x="486.1" y="146.1" width="46.2" height="7.4" fill="#FEE08F"/><rect x="532.0" y="146.1" width="29.0" height="7.4" fill="#FFEDA0"/><rect x="560.7" y="146.1" width="6.0" height="7.4" fill="#FD8D3C"/><rect x="566.5" y="146.1" width="6.0" height="7.4" fill="#FDC865"/><rect x="572.2" y="146.1" width="6.0" height="7.4" fill="#FC4E2A"/><rect x="578.0" y="146.1" width="17.5" height="7.4" fill="#FFEDA0"/><rect x="595.2" y="146.1" width="6.0" height="7.4" fill="#FEE08F"/><rect x="600.9" y="146.1" width="11.8" height="7.4" fill="#FC4E2A"/><rect x="612.4" y="146.1" width="6.0" height="7.4" fill="#E31A1C"/><rect x="618.2" y="146.1" width="6.0" height="7.4" fill="#FDC865"/><rect x="623.9" y="146.1" width="17.5" height="7.4" fill="#FEE08F"/><rect x="641.1" y="146.1" width="6.0" height="7.4" fill="#FD8D3C"/><rect x="646.9" y="146.1" width="11.8" height="7.4" fill="#FDC865"/><rect x="658.4" y="146.1" width="6.0" height="7.4" fill="#FEE08F"/><rect x="664.1" y="146.1" width="46.2" height="7.4" fill="#FFEDA0"/><rect x="434.4" y="153.3" width="29.0" height="7.4" fill="#FEE08F"/><rect x="463.1" y="153.3" width="6.0" height="7.4" fill="#FED976"/><rect x="468.9" y="153.3" width="17.5" height="7.4" fill="#FEB24C"/><rect x="486.1" y="153.3" width="6.0" height="7.4" fill="#FED976"/><rect x="491.8" y="153.3" width="23.3" height="7.4" fill="#FEE08F"/><rect x="514.8" y="153.3" width="6.0" height="7.4" fill="#FDC865"/><rect x="520.5" y="153.3" width="11.8" height="7.4" fill="#FEE08F"/><rect x="532.0" y="153.3" width="34.8" height="7.4" fill="#FFEDA0"/><rect x="566.5" y="153.3" width="11.8" height="7.4" fill="#FDC865"/><rect x="578.0" y="153.3" width="11.8" height="7.4" fill="#FFEDA0"/><rect x="589.4" y="153.3" width="23.3" height="7.4" fill="#E31A1C"/><rect x="612.4" y="153.3" width="6.0" height="7.4" fill="#FDC865"/><rect x="618.2" y="153.3" width="6.0" height="7.4" fill="#FD8D3C"/><rect x="623.9" y="153.3" width="6.0" height="7.4" fill="#FDC865"/><rect x="629.6" y="153.3" width="11.8" height="7.4" fill="#FEE08F"/><rect x="641.1" y="153.3" width="6.0" height="7.4" fill="#FC4E2A"/><rect x="646.9" y="153.3" width="6.0" height="7.4" fill="#FD8D3C"/><rect x="652.6" y="153.3" width="6.0" height="7.4" fill="#FDC865"/><rect x="658.4" y="153.3" width="6.0" height="7.4" fill="#FEE08F"/><rect x="664.1" y="153.3" width="46.2" height="7.4" fill="#FFEDA0"/><rect x="434.4" y="160.4" width="23.3" height="7.4" fill="#FEE08F"/><rect x="457.4" y="160.4" width="11.8" height="7.4" fill="#FED976"/><rect x="468.9" y="160.4" width="17.5" height="7.4" fill="#FEB24C"/><rect x="486.1" y="160.4" width="6.0" height="7.4" fill="#FED976"/><rect x="491.8" y="160.4" width="23.3" height="7.4" fill="#FEE08F"/><rect x="514.8" y="160.4" width="6.0" height="7.4" fill="#FC4E2A"/><rect x="520.5" y="160.4" width="17.5" height="7.4" fill="#FDC865"/><rect x="537.8" y="160.4" width="17.5" height="7.4" fill="#FEE08F"/><rect x="555.0" y="160.4" width="6.0" height="7.4" fill="#FDC865"/><rect x="560.7" y="160.4" width="29.0" height="7.4" fill="#FEE08F"/><rect x="589.4" y="160.4" width="23.3" height="7.4" fill="#E31A1C"/><rect x="612.4" y="160.4" width="11.8" height="7.4" fill="#FEE08F"/><rect x="623.9" y="160.4" width="17.5" height="7.4" fill="#FDC865"/><rect x="641.1" y="160.4" width="11.8" height="7.4" fill="#FEE08F"/><rect x="652.6" y="160.4" width="6.0" height="7.4" fill="#FDC865"/><rect x="658.4" y="160.4" width="11.8" height="7.4" fill="#FEE08F"/><rect x="669.8" y="160.4" width="11.8" height="7.4" fill="#FEB24C"/><rect x="681.3" y="160.4" width="29.0" height="7.4" fill="#FEE08F"/><rect x="434.4" y="167.6" width="17.5" height="7.4" fill="#FEE08F"/><rect x="451.6" y="167.6" width="17.5" height="7.4" fill="#FED976"/><rect x="468.9" y="167.6" width="23.3" height="7.4" fill="#FEB24C"/><rect x="491.8" y="167.6" width="6.0" height="7.4" fill="#FED976"/><rect x="497.6" y="167.6" width="23.3" height="7.4" fill="#FEE08F"/><rect x="520.5" y="167.6" width="6.0" height="7.4" fill="#E31A1C"/><rect x="526.3" y="167.6" width="34.8" height="7.4" fill="#FDC865"/><rect x="560.7" y="167.6" width="6.0" height="7.4" fill="#FEE08F"/><rect x="566.5" y="167.6" width="11.8" height="7.4" fill="#FFEDA0"/><rect x="578.0" y="167.6" width="11.8" height="7.4" fill="#FEE08F"/><rect x="589.4" y="167.6" width="6.0" height="7.4" fill="#E31A1C"/><rect x="595.2" y="167.6" width="6.0" height="7.4" fill="#BD0026"/><rect x="600.9" y="167.6" width="11.8" height="7.4" fill="#E31A1C"/><rect x="612.4" y="167.6" width="11.8" height="7.4" fill="#FEE08F"/><rect x="623.9" y="167.6" width="23.3" height="7.4" fill="#FDC865"/><rect x="646.9" y="167.6" width="6.0" height="7.4" fill="#FEE08F"/><rect x="652.6" y="167.6" width="6.0" height="7.4" fill="#FDC865"/><rect x="658.4" y="167.6" width="11.8" height="7.4" fill="#FEE08F"/><rect x="669.8" y="167.6" width="6.0" height="7.4" fill="#FDC865"/><rect x="675.6" y="167.6" width="34.8" height="7.4" fill="#FEE08F"/><rect x="434.4" y="174.7" width="11.8" height="7.4" fill="#FEE08F"/><rect x="445.9" y="174.7" width="29.0" height="7.4" fill="#FED976"/><rect x="474.6" y="174.7" width="17.5" height="7.4" fill="#FEB24C"/><rect x="491.8" y="174.7" width="11.8" height="7.4" fill="#FED976"/><rect x="503.3" y="174.7" width="11.8" height="7.4" fill="#FEE08F"/><rect x="514.8" y="174.7" width="6.0" height="7.4" fill="#FDC865"/><rect x="520.5" y="174.7" width="40.5" height="7.4" fill="#FEB24C"/><rect x="560.7" y="174.7" width="6.0" height="7.4" fill="#FEE08F"/><rect x="566.5" y="174.7" width="11.8" height="7.4" fill="#FFEDA0"/><rect x="578.0" y="174.7" width="6.0" height="7.4" fill="#FEE08F"/><rect x="583.7" y="174.7" width="34.8" height="7.4" fill="#BD0026"/><rect x="618.2" y="174.7" width="29.0" height="7.4" fill="#FEE08F"/><rect x="646.9" y="174.7" width="17.5" height="7.4" fill="#FDC865"/><rect x="664.1" y="174.7" width="46.2" height="7.4" fill="#FEE08F"/><rect x="440.1" y="181.8" width="40.5" height="7.4" fill="#FED976"/><rect x="480.3" y="181.8" width="6.0" height="7.4" fill="#FEB24C"/><rect x="486.1" y="181.8" width="11.8" height="7.4" fill="#FD8D3C"/><rect x="497.6" y="181.8" width="6.0" height="7.4" fill="#FEB24C"/><rect x="503.3" y="181.8" width="11.8" height="7.4" fill="#FEE08F"/><rect x="514.8" y="181.8" width="6.0" height="7.4" fill="#FDC865"/><rect x="520.5" y="181.8" width="6.0" height="7.4" fill="#FEB24C"/><rect x="526.3" y="181.8" width="11.8" height="7.4" fill="#FD8D3C"/><rect x="537.8" y="181.8" width="23.3" height="7.4" fill="#FEB24C"/><rect x="560.7" y="181.8" width="23.3" height="7.4" fill="#FEE08F"/><rect x="583.7" y="181.8" width="17.5" height="7.4" fill="#BD0026"/><rect x="600.9" y="181.8" width="6.0" height="7.4" fill="#E31A1C"/><rect x="606.7" y="181.8" width="6.0" height="7.4" fill="#BD0026"/><rect x="612.4" y="181.8" width="6.0" height="7.4" fill="#FEE08F"/><rect x="618.2" y="181.8" width="6.0" height="7.4" fill="#FC4E2A"/><rect x="623.9" y="181.8" width="6.0" height="7.4" fill="#FD8D3C"/><rect x="629.6" y="181.8" width="6.0" height="7.4" fill="#FDC865"/><rect x="635.4" y="181.8" width="17.5" height="7.4" fill="#FEE08F"/><rect x="652.6" y="181.8" width="11.8" height="7.4" fill="#FDC865"/><rect x="664.1" y="181.8" width="46.2" height="7.4" fill="#FEE08F"/><rect x="445.9" y="189.0" width="40.5" height="7.4" fill="#FED976"/><rect x="486.1" y="189.0" width="17.5" height="7.4" fill="#FD8D3C"/><rect x="503.3" y="189.0" width="6.0" height="7.4" fill="#FEB24C"/><rect x="509.1" y="189.0" width="6.0" height="7.4" fill="#FEE08F"/><rect x="514.8" y="189.0" width="6.0" height="7.4" fill="#FEB24C"/><rect x="520.5" y="189.0" width="23.3" height="7.4" fill="#FD8D3C"/><rect x="543.5" y="189.0" width="11.8" height="7.4" fill="#FEB24C"/><rect x="555.0" y="189.0" width="6.0" height="7.4" fill="#FD8D3C"/><rect x="560.7" y="189.0" width="6.0" height="7.4" fill="#FFFFFF"/><rect x="566.5" y="189.0" width="11.8" height="7.4" fill="#FEE08F"/><rect x="578.0" y="189.0" width="6.0" height="7.4" fill="#FFEDA0"/><rect x="583.7" y="189.0" width="11.8" height="7.4" fill="#BD0026"/><rect x="595.2" y="189.0" width="11.8" height="7.4" fill="#FEE08F"/><rect x="606.7" y="189.0" width="6.0" height="7.4" fill="#FDC865"/><rect x="612.4" y="189.0" width="6.0" height="7.4" fill="#FEE08F"/><rect x="618.2" y="189.0" width="6.0" height="7.4" fill="#FDC865"/><rect x="623.9" y="189.0" width="6.0" height="7.4" fill="#FD8D3C"/><rect x="629.6" y="189.0" width="6.0" height="7.4" fill="#FDC865"/><rect x="635.4" y="189.0" width="11.8" height="7.4" fill="#FEE08F"/><rect x="646.9" y="189.0" width="17.5" height="7.4" fill="#FDC865"/><rect x="664.1" y="189.0" width="46.2" height="7.4" fill="#FEE08F"/><rect x="445.9" y="196.1" width="40.5" height="7.4" fill="#FED976"/><rect x="486.1" y="196.1" width="6.0" height="7.4" fill="#FEB24C"/><rect x="491.8" y="196.1" width="17.5" height="7.4" fill="#FD8D3C"/><rect x="509.1" y="196.1" width="6.0" height="7.4" fill="#FEB24C"/><rect x="514.8" y="196.1" width="34.8" height="7.4" fill="#FD8D3C"/><rect x="549.2" y="196.1" width="6.0" height="7.4" fill="#FEB24C"/><rect x="555.0" y="196.1" width="6.0" height="7.4" fill="#FD8D3C"/><rect x="560.7" y="196.1" width="11.8" height="7.4" fill="#FFFFFF"/><rect x="572.2" y="196.1" width="11.8" height="7.4" fill="#FFEDA0"/><rect x="583.7" y="196.1" width="11.8" height="7.4" fill="#800026"/><rect x="595.2" y="196.1" width="6.0" height="7.4" fill="#BD0026"/><rect x="600.9" y="196.1" width="40.5" height="7.4" fill="#FEE08F"/><rect x="641.1" y="196.1" width="6.0" height="7.4" fill="#FDC865"/><rect x="646.9" y="196.1" width="6.0" height="7.4" fill="#FEE08F"/><rect x="652.6" y="196.1" width="6.0" height="7.4" fill="#FDC865"/><rect x="658.4" y="196.1" width="52.0" height="7.4" fill="#FEE08F"/><rect x="451.6" y="203.3" width="40.5" height="7.4" fill="#FED976"/><rect x="491.8" y="203.3" width="17.5" height="7.4" fill="#FD8D3C"/><rect x="509.1" y="203.3" width="6.0" height="7.4" fill="#FEB24C"/><rect x="514.8" y="203.3" width="17.5" height="7.4" fill="#FD8D3C"/><rect x="532.0" y="203.3" width="11.8" height="7.4" fill="#FFFFFF"/><rect x="543.5" y="203.3" width="17.5" height="7.4" fill="#FD8D3C"/><rect x="560.7" y="203.3" width="6.0" height="7.4" fill="#FFFFFF"/><rect x="566.5" y="203.3" width="6.0" height="7.4" fill="#FEE08F"/><rect x="572.2" y="203.3" width="11.8" height="7.4" fill="#FFEDA0"/><rect x="583.7" y="203.3" width="6.0" height="7.4" fill="#FEE08F"/><rect x="589.4" y="203.3" width="11.8" height="7.4" fill="#800026"/><rect x="600.9" y="203.3" width="6.0" height="7.4" fill="#FFFFFF"/><rect x="606.7" y="203.3" width="6.0" height="7.4" fill="#BD0026"/><rect x="612.4" y="203.3" width="29.0" height="7.4" fill="#FEE08F"/><rect x="641.1" y="203.3" width="6.0" height="7.4" fill="#FC4E2A"/><rect x="646.9" y="203.3" width="6.0" height="7.4" fill="#FFFFFF"/><rect x="652.6" y="203.3" width="52.0" height="7.4" fill="#FEE08F"/><rect x="451.6" y="210.4" width="46.2" height="7.4" fill="#FED976"/><rect x="497.6" y="210.4" width="11.8" height="7.4" fill="#FEB24C"/><rect x="509.1" y="210.4" width="29.0" height="7.4" fill="#FD8D3C"/><rect x="537.8" y="210.4" width="11.8" height="7.4" fill="#FFFFFF"/><rect x="549.2" y="210.4" width="11.8" height="7.4" fill="#FD8D3C"/><rect x="560.7" y="210.4" width="34.8" height="7.4" fill="#FEE08F"/><rect x="595.2" y="210.4" width="11.8" height="7.4" fill="#BD0026"/><rect x="606.7" y="210.4" width="11.8" height="7.4" fill="#FEE08F"/><rect x="618.2" y="210.4" width="11.8" height="7.4" fill="#FDC865"/><rect x="629.6" y="210.4" width="11.8" height="7.4" fill="#FEE08F"/><rect x="641.1" y="210.4" width="6.0" height="7.4" fill="#FFFFFF"/><rect x="646.9" y="210.4" width="17.5" height="7.4" fill="#FDC865"/><rect x="664.1" y="210.4" width="40.5" height="7.4" fill="#FEE08F"/><rect x="457.4" y="217.5" width="40.5" height="7.4" fill="#FED976"/><rect x="497.6" y="217.5" width="17.5" height="7.4" fill="#FEB24C"/><rect x="514.8" y="217.5" width="23.3" height="7.4" fill="#FD8D3C"/><rect x="537.8" y="217.5" width="23.3" height="7.4" fill="#FFFFFF"/><rect x="560.7" y="217.5" width="57.7" height="7.4" fill="#FEE08F"/><rect x="618.2" y="217.5" width="17.5" height="7.4" fill="#FDC865"/><rect x="635.4" y="217.5" width="11.8" height="7.4" fill="#FFFFFF"/><rect x="646.9" y="217.5" width="6.0" height="7.4" fill="#FDC865"/><rect x="652.6" y="217.5" width="6.0" height="7.4" fill="#FEE08F"/><rect x="658.4" y="217.5" width="11.8" height="7.4" fill="#FEB24C"/><rect x="669.8" y="217.5" width="6.0" height="7.4" fill="#FDC865"/><rect x="675.6" y="217.5" width="29.0" height="7.4" fill="#FEE08F"/><rect x="463.1" y="224.7" width="29.0" height="7.4" fill="#FED976"/><rect x="491.8" y="224.7" width="29.0" height="7.4" fill="#FEB24C"/><rect x="520.5" y="224.7" width="11.8" height="7.4" fill="#FD8D3C"/><rect x="532.0" y="224.7" width="11.8" height="7.4" fill="#FC4E2A"/><rect x="543.5" y="224.7" width="29.0" height="7.4" fill="#FFFFFF"/><rect x="572.2" y="224.7" width="6.0" height="7.4" fill="#FEE08F"/><rect x="578.0" y="224.7" width="6.0" height="7.4" fill="#FEB24C"/><rect x="583.7" y="224.7" width="34.8" height="7.4" fill="#FEE08F"/><rect x="618.2" y="224.7" width="17.5" height="7.4" fill="#FDC865"/><rect x="635.4" y="224.7" width="17.5" height="7.4" fill="#FFFFFF"/><rect x="652.6" y="224.7" width="6.0" height="7.4" fill="#FEE08F"/><rect x="658.4" y="224.7" width="17.5" height="7.4" fill="#FEB24C"/><rect x="675.6" y="224.7" width="6.0" height="7.4" fill="#FDC865"/><rect x="681.3" y="224.7" width="23.3" height="7.4" fill="#FEE08F"/><rect x="468.9" y="231.8" width="17.5" height="7.4" fill="#FED976"/><rect x="486.1" y="231.8" width="29.0" height="7.4" fill="#FEB24C"/><rect x="514.8" y="231.8" width="17.5" height="7.4" fill="#FD8D3C"/><rect x="532.0" y="231.8" width="11.8" height="7.4" fill="#FC4E2A"/><rect x="543.5" y="231.8" width="34.8" height="7.4" fill="#FFFFFF"/><rect x="578.0" y="231.8" width="40.5" height="7.4" fill="#FEE08F"/><rect x="618.2" y="231.8" width="17.5" height="7.4" fill="#FDC865"/><rect x="635.4" y="231.8" width="17.5" height="7.4" fill="#FFFFFF"/><rect x="652.6" y="231.8" width="6.0" height="7.4" fill="#FDC865"/><rect x="658.4" y="231.8" width="17.5" height="7.4" fill="#FEB24C"/><rect x="675.6" y="231.8" width="6.0" height="7.4" fill="#FDC865"/><rect x="681.3" y="231.8" width="23.3" height="7.4" fill="#FEE08F"/><rect x="486.1" y="239.0" width="23.3" height="7.4" fill="#FEB24C"/><rect x="509.1" y="239.0" width="23.3" height="7.4" fill="#FD8D3C"/><rect x="532.0" y="239.0" width="11.8" height="7.4" fill="#FC4E2A"/><rect x="543.5" y="239.0" width="6.0" height="7.4" fill="#FFFFFF"/><rect x="549.2" y="239.0" width="6.0" height="7.4" fill="#BD0026"/><rect x="555.0" y="239.0" width="23.3" height="7.4" fill="#FFFFFF"/><rect x="578.0" y="239.0" width="29.0" height="7.4" fill="#FEE08F"/><rect x="606.7" y="239.0" width="6.0" height="7.4" fill="#FFFFFF"/><rect x="612.4" y="239.0" width="6.0" height="7.4" fill="#FEE08F"/><rect x="618.2" y="239.0" width="11.8" height="7.4" fill="#FDC865"/><rect x="629.6" y="239.0" width="23.3" height="7.4" fill="#FFFFFF"/><rect x="652.6" y="239.0" width="6.0" height="7.4" fill="#FDC865"/><rect x="658.4" y="239.0" width="17.5" height="7.4" fill="#FEB24C"/><rect x="675.6" y="239.0" width="29.0" height="7.4" fill="#FDC865"/><rect x="497.6" y="246.1" width="6.0" height="7.4" fill="#FEB24C"/><rect x="503.3" y="246.1" width="29.0" height="7.4" fill="#FD8D3C"/><rect x="532.0" y="246.1" width="17.5" height="7.4" fill="#FC4E2A"/><rect x="549.2" y="246.1" width="11.8" height="7.4" fill="#BD0026"/><rect x="560.7" y="246.1" width="23.3" height="7.4" fill="#FFFFFF"/><rect x="583.7" y="246.1" width="29.0" height="7.4" fill="#FEE08F"/><rect x="612.4" y="246.1" width="6.0" height="7.4" fill="#FFFFFF"/><rect x="618.2" y="246.1" width="6.0" height="7.4" fill="#FDC865"/><rect x="623.9" y="246.1" width="23.3" height="7.4" fill="#FFFFFF"/><rect x="646.9" y="246.1" width="6.0" height="7.4" fill="#FEE08F"/><rect x="652.6" y="246.1" width="6.0" height="7.4" fill="#FFFFFF"/><rect x="658.4" y="246.1" width="6.0" height="7.4" fill="#FC4E2A"/><rect x="664.1" y="246.1" width="17.5" height="7.4" fill="#FEB24C"/><rect x="681.3" y="246.1" width="23.3" height="7.4" fill="#FDC865"/><rect x="503.3" y="253.2" width="29.0" height="7.4" fill="#FD8D3C"/><rect x="532.0" y="253.2" width="17.5" height="7.4" fill="#FC4E2A"/><rect x="549.2" y="253.2" width="23.3" height="7.4" fill="#BD0026"/><rect x="572.2" y="253.2" width="11.8" height="7.4" fill="#FFFFFF"/><rect x="583.7" y="253.2" width="34.8" height="7.4" fill="#FEE08F"/><rect x="618.2" y="253.2" width="6.0" height="7.4" fill="#FDC865"/><rect x="623.9" y="253.2" width="23.3" height="7.4" fill="#FFFFFF"/><rect x="646.9" y="253.2" width="11.8" height="7.4" fill="#FEE08F"/><rect x="658.4" y="253.2" width="23.3" height="7.4" fill="#FEB24C"/><rect x="681.3" y="253.2" width="23.3" height="7.4" fill="#FDC865"/><rect x="503.3" y="260.4" width="29.0" height="7.4" fill="#FD8D3C"/><rect x="532.0" y="260.4" width="11.8" height="7.4" fill="#FC4E2A"/><rect x="543.5" y="260.4" width="29.0" height="7.4" fill="#BD0026"/><rect x="572.2" y="260.4" width="40.5" height="7.4" fill="#FEE08F"/><rect x="612.4" y="260.4" width="6.0" height="7.4" fill="#FFFFFF"/><rect x="618.2" y="260.4" width="6.0" height="7.4" fill="#FDC865"/><rect x="623.9" y="260.4" width="6.0" height="7.4" fill="#FFFFFF"/><rect x="635.4" y="260.4" width="23.3" height="7.4" fill="#FEE08F"/><rect x="658.4" y="260.4" width="23.3" height="7.4" fill="#FEB24C"/><rect x="681.3" y="260.4" width="23.3" height="7.4" fill="#FDC865"/></g></g><g fill="none" stroke="#262626" stroke-width="0.75" stroke-linejoin="round"><path d="M460.2,10.5L525.8,10.5L525.8,47.3L527.2,53.3L503.5,53.3L499.9,54.3L496.4,54.5L491.8,55.9L484.9,56.9L478.0,58.3L470.0,58.2L465.4,59.5L460.1,58.3L459.7,54.7L457.4,51.6L452.8,50.5L447.0,49.8L445.3,49.5L445.0,44.8L444.2,39.8L443.6,34.8L441.3,29.0L438.4,24.0L437.5,19.3L443.6,21.9L451.6,22.6L456.2,23.3L459.7,24.0L462.0,30.5L463.1,36.2L465.4,34.8L464.8,29.0L465.4,24.8L463.7,19.0L462.0,14.8L460.2,10.5Z"/><path d="M443.5,110.4L441.3,104.7L440.1,99.0L441.3,94.7L443.0,89.0L444.5,81.9L445.1,73.3L446.5,64.7L446.5,59.0L446.7,53.3L445.3,49.5L447.0,49.8L452.8,50.5L457.4,51.6L459.7,54.7L460.1,58.3L465.4,59.5L470.0,58.2L478.0,58.3L484.9,56.9L491.8,55.9L496.4,54.5L499.9,54.3L503.5,53.3L527.2,53.3L527.2,53.3L528.8,55.5L531.4,57.6L532.5,59.5L531.1,61.2L529.4,65.5L528.0,67.6L526.3,71.2L524.0,75.5L524.0,77.6L526.6,79.0L527.4,81.9L525.9,84.7L525.9,110.4Z"/><path d="M524.9,245.7L523.1,239.0L521.7,236.1L515.9,230.4L511.3,228.7L510.2,228.2L509.1,224.3L505.6,224.7L501.0,222.5L497.6,219.0L491.8,218.1L486.4,218.3L484.5,216.5L484.9,211.8L484.4,207.5L481.5,204.0L476.9,200.8L474.6,196.1L470.0,191.8L469.4,187.6L471.2,184.7L468.9,182.3L464.3,179.0L463.1,174.7L463.1,170.4L460.8,169.0L457.4,167.6L457.4,163.3L451.6,157.6L448.8,153.3L448.2,146.1L447.6,141.1L444.7,137.6L441.3,133.3L443.6,128.3L444.7,124.7L444.2,117.6L443.6,114.0L443.5,110.4L491.8,110.4L491.8,153.3L553.5,210.4L554.2,212.5L555.8,216.1L559.2,220.4L555.8,224.0L554.6,225.7L555.0,229.7L552.5,233.2L552.7,237.5L555.0,239.7L555.3,241.2L552.5,243.0L524.9,245.7Z"/><path d="M491.8,110.4L560.3,110.4L560.3,193.4L557.3,195.4L552.2,196.1L552.7,199.0L553.2,203.3L553.5,210.4L491.8,153.3Z"/><path d="M525.8,10.5L537.2,10.5L537.2,25.0L541.2,29.0L541.2,32.6L545.8,35.5L549.8,39.8L554.4,44.0L556.7,44.0L555.6,50.5L555.0,55.5L556.7,60.5L560.7,59.7L563.0,59.0L566.5,66.2L569.9,69.0L572.2,75.5L574.5,76.2L579.1,75.5L582.6,74.0L589.4,74.0L590.6,71.6L594.6,75.0L594.6,110.4L525.9,110.4L525.9,84.7L527.4,81.9L526.6,79.0L524.0,77.6L524.0,75.5L526.3,71.2L528.0,67.6L529.4,65.5L531.1,61.2L532.5,59.5L531.4,57.6L528.8,55.5L527.2,53.3L525.8,47.3Z"/><path d="M537.2,10.5L675.1,10.5L675.1,67.6L594.6,67.6L594.6,75.0L590.6,71.6L589.4,74.0L582.6,74.0L579.1,75.5L574.5,76.2L572.2,75.5L569.9,69.0L566.5,66.2L563.0,59.0L560.7,59.7L556.7,60.5L555.0,55.5L555.6,50.5L556.7,44.0L554.4,44.0L549.8,39.8L545.8,35.5L541.2,32.6L541.2,29.0L537.2,25.0Z"/><path d="M594.6,67.6L675.0,67.6L675.0,124.7L594.6,124.7Z"/><path d="M560.3,110.4L594.6,110.4L594.6,124.7L617.6,124.7L617.6,181.8L560.2,181.8Z"/><path d="M617.6,124.7L698.0,124.7L698.0,181.8L617.6,181.8Z"/><path d="M560.2,181.8L617.6,181.8L617.6,262.8L594.4,262.8L551.3,246.2L552.5,243.0L555.3,241.2L555.0,239.7L552.7,237.5L552.5,233.2L555.0,229.7L554.6,225.7L555.8,224.0L559.2,220.4L555.8,216.1L554.2,212.5L553.5,210.4L553.2,203.3L552.7,199.0L552.2,196.1L557.3,195.4L560.3,193.4Z"/><path d="M617.6,181.8L687.1,181.8L686.4,253.2L645.5,253.2L646.5,256.4L627.3,256.4L627.3,262.8L617.6,262.8Z"/></g><g transform="translate(369.5,0)"><path d="M87.0,10.0L90.0,10.5L91.5,12.0L92.5,14.0L93.5,16.0L93.0,18.5L95.0,19.5L95.5,22.0L97.5,24.0L97.5,25.5L95.5,26.0L95.8,29.0L95.0,32.0L94.0,34.5L92.5,37.0L90.5,38.0L88.0,37.5L87.0,35.0L87.5,32.0L89.0,29.5L88.0,27.0L89.5,24.0L89.0,21.5L88.0,19.0L86.0,17.0L85.5,14.5L86.5,12.0Z" fill="#111"/><ellipse cx="90.8" cy="29.5" rx="1.2" ry="2.2" fill="#F5C060"/><ellipse cx="91.5" cy="22" rx="0.9" ry="1.5" fill="#E8A050"/><path d="M74.8,38.6 L76.5,39.2 L78.4,39.7 M75.9,42.4 L76.3,45.5 L76.9,49.8 M76.4,49.1 L78.2,49.4 L80.0,49.8" fill="none" stroke="#141414" stroke-width="1.5" stroke-linecap="round"/><path d="M88.2,163.8 L89.2,165.6 L90.2,167.4 M94.6,165.9 L96.5,165.4 L98.5,165.9 L100.5,165.2 L102.5,165.6 L104.2,165.0 M95.2,166.2 L95.8,168.5 L96.6,171 L97.8,173.5 L99.2,175.2" fill="none" stroke="#1a1a1a" stroke-width="1.2"/><path d="M117.2,223.4 L120.5,224.4 L123.5,224.0 L126.5,224.6 L129.8,224.9" fill="none" stroke="#1a1a1a" stroke-width="1.1"/><ellipse cx="127.3" cy="234.7" rx="0.9" ry="0.6" fill="#1a1a1a"/><ellipse cx="133.2" cy="232.1" rx="0.4" ry="0.4" fill="#1a1a1a"/><ellipse cx="139.7" cy="233.6" rx="0.7" ry="1.1" transform="rotate(-35 139.7 233.6)" fill="#1a1a1a"/><ellipse cx="139.9" cy="240.6" rx="0.6" ry="1.3" transform="rotate(-35 139.9 240.6)" fill="#1a1a1a"/></g><rect x="426.7" y="0.5" width="281.4" height="272.3" fill="none" stroke="#1a1a1a" stroke-width="1.1"/><line x1="434.40" y1="272.8" x2="434.40" y2="281.6" stroke="#1a1a1a" stroke-width="1.1"/><line x1="491.82" y1="272.8" x2="491.82" y2="281.6" stroke="#1a1a1a" stroke-width="1.1"/><line x1="549.25" y1="272.8" x2="549.25" y2="281.6" stroke="#1a1a1a" stroke-width="1.1"/><line x1="606.67" y1="272.8" x2="606.67" y2="281.6" stroke="#1a1a1a" stroke-width="1.1"/><line x1="664.10" y1="272.8" x2="664.10" y2="281.6" stroke="#1a1a1a" stroke-width="1.1"/><line x1="417.4" y1="67.60" x2="426.7" y2="67.60" stroke="#1a1a1a" stroke-width="1.1"/><line x1="417.4" y1="139.00" x2="426.7" y2="139.00" stroke="#1a1a1a" stroke-width="1.1"/><line x1="417.4" y1="210.40" x2="426.7" y2="210.40" stroke="#1a1a1a" stroke-width="1.1"/><rect x="183.00" y="342.5" width="9.80" height="8.5" fill="#FFFFCC"/><rect x="192.60" y="342.5" width="16.60" height="8.5" fill="#FFEDA0"/><rect x="209.00" y="342.5" width="17.40" height="8.5" fill="#FED976"/><rect x="226.20" y="342.5" width="16.90" height="8.5" fill="#FEB24C"/><rect x="242.90" y="342.5" width="17.10" height="8.5" fill="#FD8D3C"/><rect x="259.80" y="342.5" width="17.20" height="8.5" fill="#FC4E2A"/><rect x="276.80" y="342.5" width="17.10" height="8.5" fill="#E31A1C"/><rect x="293.70" y="342.5" width="16.90" height="8.5" fill="#BD0026"/><rect x="310.40" y="342.5" width="9.80" height="8.5" fill="#800026"/><rect x="183" y="342.5" width="137" height="8.5" fill="none" stroke="#1a1a1a" stroke-width="1"/><line x1="197.8" y1="351" x2="197.8" y2="359.5" stroke="#1a1a1a" stroke-width="1.1"/><line x1="225.75" y1="351" x2="225.75" y2="359.5" stroke="#1a1a1a" stroke-width="1.1"/><line x1="254" y1="351" x2="254" y2="359.5" stroke="#1a1a1a" stroke-width="1.1"/><line x1="281.7" y1="351" x2="281.7" y2="359.5" stroke="#1a1a1a" stroke-width="1.1"/><line x1="310" y1="351" x2="310" y2="359.5" stroke="#1a1a1a" stroke-width="1.1"/><rect x="551.00" y="342.5" width="10.00" height="8.5" fill="#FFFFCC"/><rect x="560.80" y="342.5" width="16.60" height="8.5" fill="#FFEDA0"/><rect x="577.20" y="342.5" width="17.20" height="8.5" fill="#FED976"/><rect x="594.20" y="342.5" width="17.10" height="8.5" fill="#FEB24C"/><rect x="611.10" y="342.5" width="17.10" height="8.5" fill="#FD8D3C"/><rect x="628.00" y="342.5" width="17.20" height="8.5" fill="#FC4E2A"/><rect x="645.00" y="342.5" width="16.60" height="8.5" fill="#E31A1C"/><rect x="661.40" y="342.5" width="16.90" height="8.5" fill="#BD0026"/><rect x="678.10" y="342.5" width="10.10" height="8.5" fill="#800026"/><rect x="551" y="342.5" width="137" height="8.5" fill="none" stroke="#1a1a1a" stroke-width="1"/><line x1="566" y1="351" x2="566" y2="359.5" stroke="#1a1a1a" stroke-width="1.1"/><line x1="593.7" y1="351" x2="593.7" y2="359.5" stroke="#1a1a1a" stroke-width="1.1"/><line x1="621.7" y1="351" x2="621.7" y2="359.5" stroke="#1a1a1a" stroke-width="1.1"/><line x1="649.9" y1="351" x2="649.9" y2="359.5" stroke="#1a1a1a" stroke-width="1.1"/><line x1="677.7" y1="351" x2="677.7" y2="359.5" stroke="#1a1a1a" stroke-width="1.1"/></svg>
<div style="position:absolute;left:8.0px;top:0.5px;font-size:17px;line-height:17px;font-weight:bold">(a)</div><div style="position:absolute;left:-35.60px;top:287.00px;width:200px;text-align:center;font-size:14.3px;line-height:14.3px;white-space:nowrap;">&minus;125</div><div style="position:absolute;left:21.83px;top:287.00px;width:200px;text-align:center;font-size:14.3px;line-height:14.3px;white-space:nowrap;">&minus;120</div><div style="position:absolute;left:79.25px;top:287.00px;width:200px;text-align:center;font-size:14.3px;line-height:14.3px;white-space:nowrap;">&minus;115</div><div style="position:absolute;left:136.67px;top:287.00px;width:200px;text-align:center;font-size:14.3px;line-height:14.3px;white-space:nowrap;">&minus;110</div><div style="position:absolute;left:194.10px;top:287.00px;width:200px;text-align:center;font-size:14.3px;line-height:14.3px;white-space:nowrap;">&minus;105</div><div style="position:absolute;left:0.0px;top:60.70px;width:41.7px;text-align:right;font-size:14.3px;line-height:14px">45</div><div style="position:absolute;left:0.0px;top:132.10px;width:41.7px;text-align:right;font-size:14.3px;line-height:14px">40</div><div style="position:absolute;left:0.0px;top:203.50px;width:41.7px;text-align:right;font-size:14.3px;line-height:14px">35</div><div style="position:absolute;left:148.3px;top:310.6px;font-size:15px;line-height:15px">Longitude (°W)</div><div style="position:absolute;left:7.30px;top:142.60px;width:0;height:0"><div style="position:absolute;left:0;top:0;transform:translate(-50%,-50%) rotate(-90deg);font-size:15px;line-height:15px;white-space:nowrap">Latitude (°N)</div></div><div style="position:absolute;left:376.5px;top:0.5px;font-size:17px;line-height:17px;font-weight:bold">(b)</div><div style="position:absolute;left:333.90px;top:287.00px;width:200px;text-align:center;font-size:14.3px;line-height:14.3px;white-space:nowrap;">&minus;125</div><div style="position:absolute;left:391.32px;top:287.00px;width:200px;text-align:center;font-size:14.3px;line-height:14.3px;white-space:nowrap;">&minus;120</div><div style="position:absolute;left:448.75px;top:287.00px;width:200px;text-align:center;font-size:14.3px;line-height:14.3px;white-space:nowrap;">&minus;115</div><div style="position:absolute;left:506.17px;top:287.00px;width:200px;text-align:center;font-size:14.3px;line-height:14.3px;white-space:nowrap;">&minus;110</div><div style="position:absolute;left:563.60px;top:287.00px;width:200px;text-align:center;font-size:14.3px;line-height:14.3px;white-space:nowrap;">&minus;105</div><div style="position:absolute;left:369.5px;top:60.70px;width:41.7px;text-align:right;font-size:14.3px;line-height:14px">45</div><div style="position:absolute;left:369.5px;top:132.10px;width:41.7px;text-align:right;font-size:14.3px;line-height:14px">40</div><div style="position:absolute;left:369.5px;top:203.50px;width:41.7px;text-align:right;font-size:14.3px;line-height:14px">35</div><div style="position:absolute;left:517.8px;top:310.6px;font-size:15px;line-height:15px">Longitude (°W)</div><div style="position:absolute;left:376.80px;top:142.60px;width:0;height:0"><div style="position:absolute;left:0;top:0;transform:translate(-50%,-50%) rotate(-90deg);font-size:15px;line-height:15px;white-space:nowrap">Latitude (°N)</div></div><div style="position:absolute;left:15.80px;top:342.60px;width:200px;text-align:center;font-size:14.4px;line-height:14.4px;white-space:nowrap;">Max. attainable</div><div style="position:absolute;left:15.80px;top:359.60px;width:200px;text-align:center;font-size:14.4px;line-height:14.4px;white-space:nowrap;">DBH (cm)</div><div style="position:absolute;left:383.00px;top:342.60px;width:200px;text-align:center;font-size:14.4px;line-height:14.4px;white-space:nowrap;">Max. attainable</div><div style="position:absolute;left:382.80px;top:359.60px;width:200px;text-align:center;font-size:14.5px;line-height:14.5px;white-space:nowrap;">leaf mass (g)</div><div style="position:absolute;left:198.25px;top:374.40px;width:0;height:0"><div style="position:absolute;left:0;top:0;transform:translate(-50%,-50%) rotate(-45deg);font-size:12px;line-height:12px;white-space:nowrap">20</div></div><div style="position:absolute;left:225.55px;top:374.40px;width:0;height:0"><div style="position:absolute;left:0;top:0;transform:translate(-50%,-50%) rotate(-45deg);font-size:12px;line-height:12px;white-space:nowrap">30</div></div><div style="position:absolute;left:254.10px;top:374.40px;width:0;height:0"><div style="position:absolute;left:0;top:0;transform:translate(-50%,-50%) rotate(-45deg);font-size:12px;line-height:12px;white-space:nowrap">40</div></div><div style="position:absolute;left:281.70px;top:374.40px;width:0;height:0"><div style="position:absolute;left:0;top:0;transform:translate(-50%,-50%) rotate(-45deg);font-size:12px;line-height:12px;white-space:nowrap">50</div></div><div style="position:absolute;left:309.40px;top:374.40px;width:0;height:0"><div style="position:absolute;left:0;top:0;transform:translate(-50%,-50%) rotate(-45deg);font-size:12px;line-height:12px;white-space:nowrap">60</div></div><div style="position:absolute;left:588.65px;top:376.60px;width:0;height:0"><div style="position:absolute;left:0;top:0;transform:translate(-50%,-50%) rotate(-45deg);font-size:12px;line-height:12px;white-space:nowrap">0.05</div></div><div style="position:absolute;left:631.40px;top:376.60px;width:0;height:0"><div style="position:absolute;left:0;top:0;transform:translate(-50%,-50%) rotate(-45deg);font-size:12px;line-height:12px;white-space:nowrap">0.10</div></div><div style="position:absolute;left:674.55px;top:376.60px;width:0;height:0"><div style="position:absolute;left:0;top:0;transform:translate(-50%,-50%) rotate(-45deg);font-size:12px;line-height:12px;white-space:nowrap">0.15</div></div>
</body></html>
